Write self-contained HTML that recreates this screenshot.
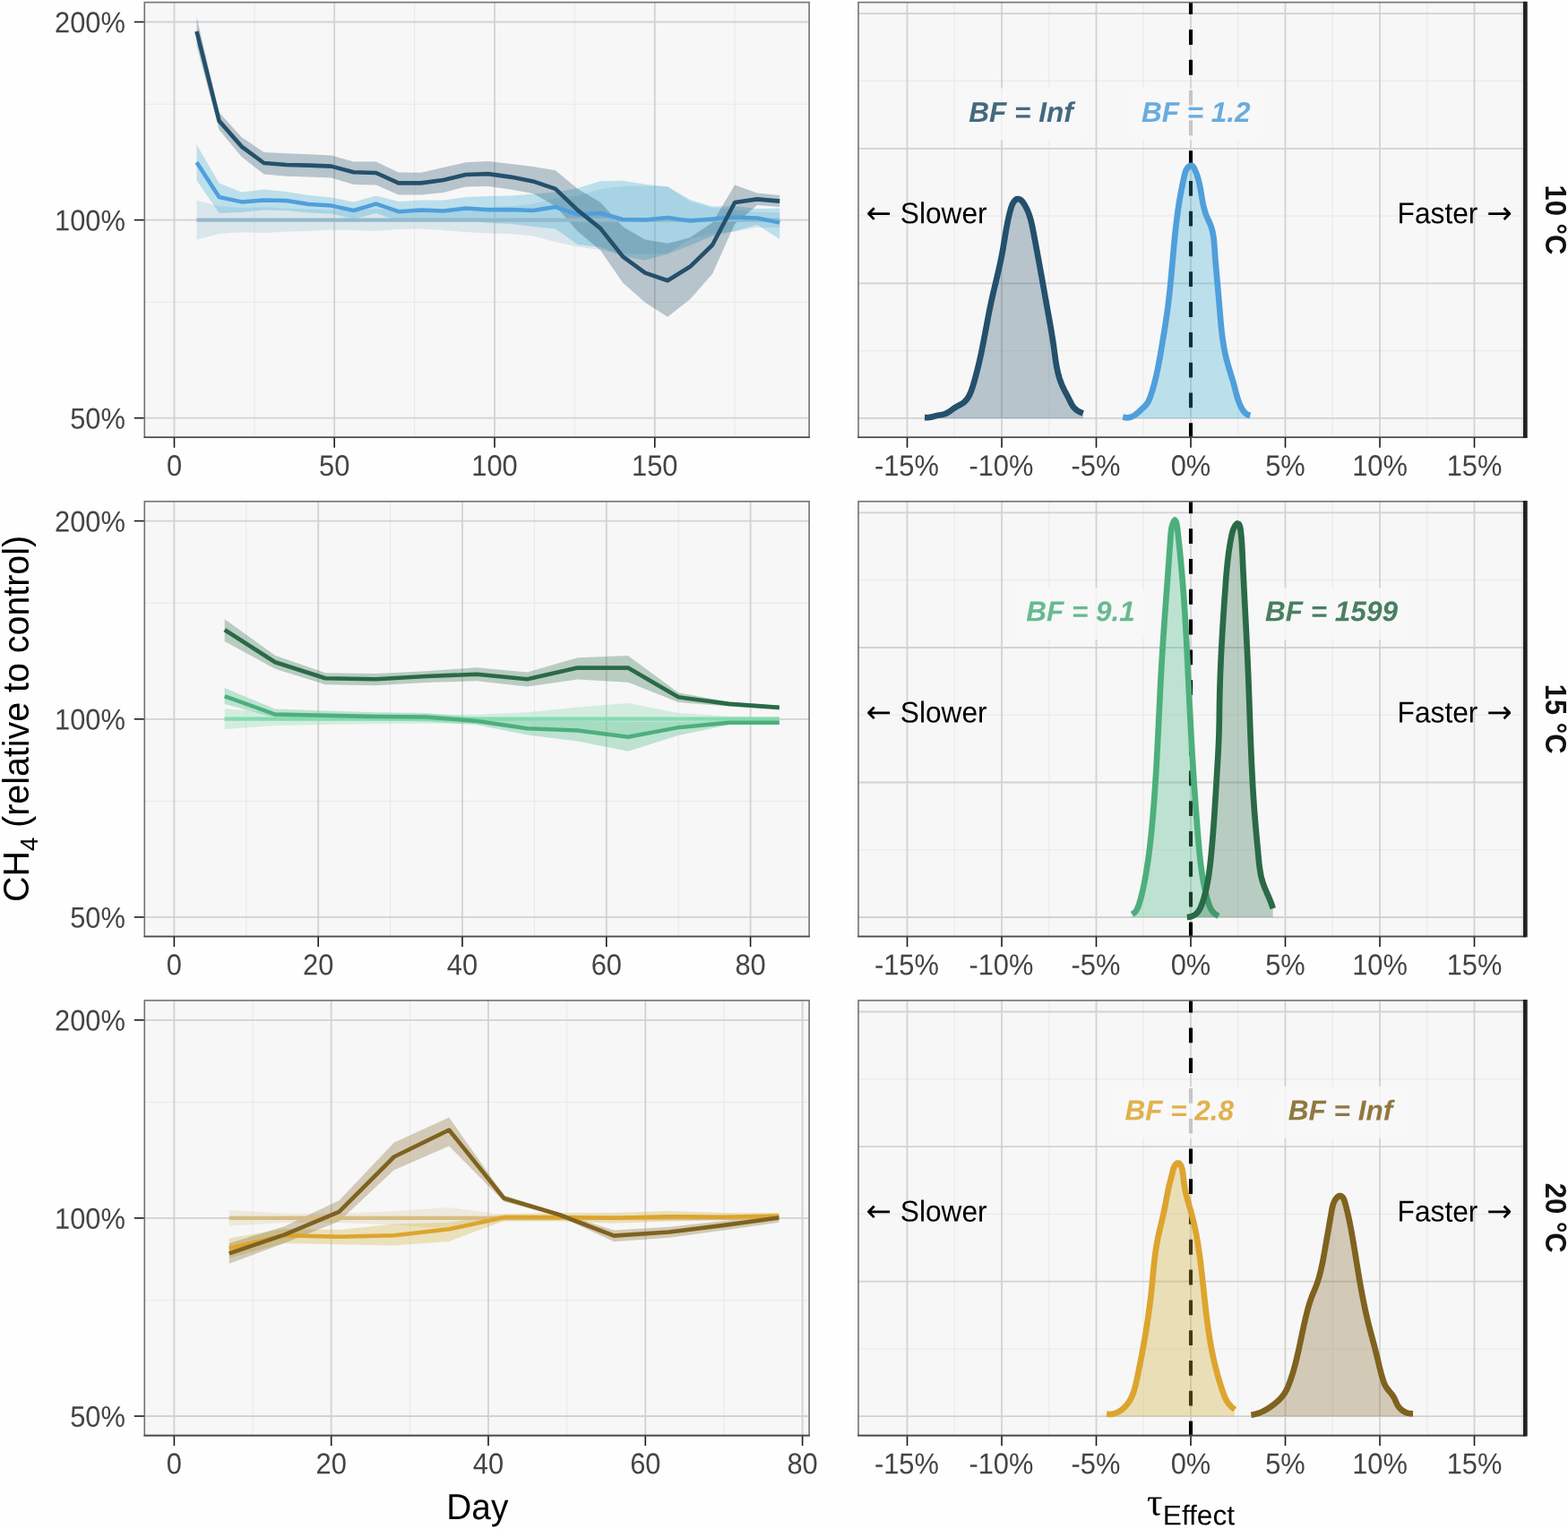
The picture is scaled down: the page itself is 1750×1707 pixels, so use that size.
<!DOCTYPE html><html lang="en"><head><meta charset="utf-8"><title>CH4 relative to control</title>
<style>html,body{margin:0;padding:0;background:#fff}svg{display:block}text{font-family:"Liberation Sans",Arial,Helvetica,sans-serif}</style></head><body>
<svg width="1750" height="1707" viewBox="0 0 1750 1707">
<rect width="1750" height="1707" fill="#FEFEFE"/>
<defs>
<clipPath id="cl0"><rect x="161.3" y="2.6" width="741.8" height="485.7"/></clipPath>
<clipPath id="cr0"><rect x="958.0" y="2.6" width="744.3" height="485.7"/></clipPath>
<clipPath id="cl1"><rect x="161.3" y="559.8" width="741.8" height="485.7"/></clipPath>
<clipPath id="cr1"><rect x="958.0" y="559.8" width="744.3" height="485.7"/></clipPath>
<clipPath id="cl2"><rect x="161.3" y="1116.9" width="741.8" height="485.7"/></clipPath>
<clipPath id="cr2"><rect x="958.0" y="1116.9" width="744.3" height="485.7"/></clipPath>
</defs>
<g>
<rect x="161.3" y="2.6" width="741.8" height="485.7" fill="#F7F7F7"/>
<g clip-path="url(#cl0)">
<line x1="283.9" x2="283.9" y1="2.6" y2="488.3" stroke="#E8E8E8" stroke-width="1.0"/>
<line x1="462.6" x2="462.6" y1="2.6" y2="488.3" stroke="#E8E8E8" stroke-width="1.0"/>
<line x1="641.4" x2="641.4" y1="2.6" y2="488.3" stroke="#E8E8E8" stroke-width="1.0"/>
<line x1="820.1" x2="820.1" y1="2.6" y2="488.3" stroke="#E8E8E8" stroke-width="1.0"/>
<line x1="161.3" x2="903.1" y1="116.3" y2="116.3" stroke="#E8E8E8" stroke-width="1.0"/>
<line x1="161.3" x2="903.1" y1="337.4" y2="337.4" stroke="#E8E8E8" stroke-width="1.0"/>
<line x1="194.5" x2="194.5" y1="2.6" y2="488.3" stroke="#D2D2D2" stroke-width="1.8"/>
<line x1="373.2" x2="373.2" y1="2.6" y2="488.3" stroke="#D2D2D2" stroke-width="1.8"/>
<line x1="552" x2="552" y1="2.6" y2="488.3" stroke="#D2D2D2" stroke-width="1.8"/>
<line x1="730.8" x2="730.8" y1="2.6" y2="488.3" stroke="#D2D2D2" stroke-width="1.8"/>
<line x1="161.3" x2="903.1" y1="24.5" y2="24.5" stroke="#D2D2D2" stroke-width="1.8"/>
<line x1="161.3" x2="903.1" y1="245.6" y2="245.6" stroke="#D2D2D2" stroke-width="1.8"/>
<line x1="161.3" x2="903.1" y1="466.7" y2="466.7" stroke="#D2D2D2" stroke-width="1.8"/>
<polygon points="219.5,223.8 244.6,230.2 269.6,232 294.6,231.2 319.6,232.8 344.6,233.2 369.7,234.8 394.7,234.2 419.7,233.2 444.8,235.2 469.8,235.6 494.8,234.2 519.8,232.2 544.9,230.8 569.9,230.2 594.9,227.6 619.9,221.2 645,218.3 670,210.9 695,207.8 720,207.4 745.1,208.4 770.1,225 795.1,232 820.1,234 845.1,237 870.2,237 870.2,254 845.1,254 820.1,258.5 795.1,260.5 770.1,267.2 745.1,282.9 720,283.8 695,283.4 670,279 645,275.4 619.9,270 594.9,263.6 569.9,261 544.9,260.4 519.8,259 494.8,257 469.8,255.6 444.8,256 419.7,258 394.7,257 369.7,256.4 344.6,258 319.6,258.4 294.6,260 269.6,259.2 244.6,261 219.5,267.4" fill="#8FBBD0" fill-opacity="0.28"/>
<polygon points="219.5,161.4 244.6,204.6 269.6,214.4 294.6,211.4 319.6,214 344.6,218 369.7,220.4 394.7,225.6 419.7,218.4 444.8,225 469.8,223.6 494.8,223.6 519.8,220 544.9,219 569.9,218.6 594.9,216.4 619.9,214.4 645,210 670,202.3 695,201.8 720,205.8 745.1,208.3 770.1,223 795.1,230.4 820.1,230 845.1,233 870.2,232.4 870.2,267 845.1,251 820.1,258 795.1,263.5 770.1,274 745.1,283.6 720,290.6 695,286.3 670,276 645,273 619.9,255.4 594.9,253 569.9,250 544.9,249 519.8,246 494.8,246.6 469.8,245.6 444.8,247 419.7,238 394.7,244.4 369.7,238.6 344.6,237.6 319.6,235 294.6,234.4 269.6,237 244.6,238 219.5,201.6" fill="#2CA6D2" fill-opacity="0.29"/>
<polygon points="219.5,19 244.6,125.6 269.6,153 294.6,170 319.6,171.2 344.6,172.2 369.7,173.4 394.7,180.4 419.7,180.6 444.8,192.6 469.8,192.8 494.8,187 519.8,181.2 544.9,179.9 569.9,183 594.9,186 619.9,190.2 645,210.9 670,225.7 695,253.1 720,267.4 745.1,271.8 770.1,265.3 795.1,248.4 820.1,206.4 845.1,215.6 870.2,218 870.2,231 845.1,229 820.1,250 795.1,305.8 770.1,334.2 745.1,353.8 720,337.8 695,315.6 670,279.2 645,258.6 619.9,230 594.9,216 569.9,211.6 544.9,208 519.8,208.4 494.8,215 469.8,217.6 444.8,217.4 419.7,206.6 394.7,206 369.7,198.4 344.6,197.6 319.6,196.8 294.6,194.4 269.6,175 244.6,145 219.5,51" fill="#24506B" fill-opacity="0.3"/>
<polyline points="219.5,245.6 244.6,245.6 269.6,245.6 294.6,245.6 319.6,245.6 344.6,245.6 369.7,245.6 394.7,245.6 419.7,245.6 444.8,245.6 469.8,245.6 494.8,245.6 519.8,245.6 544.9,245.6 569.9,245.6 594.9,245.6 619.9,245.6 645,245.6 670,245.6 695,245.6 720,245.6 745.1,245.6 770.1,245.6 795.1,245.6 820.1,245.6 845.1,245.6 870.2,245.6" fill="none" stroke="#93B9CB" stroke-width="4.2" stroke-linejoin="round"/>
<polyline points="219.5,181.2 244.6,220 269.6,225.4 294.6,223.4 319.6,224 344.6,228 369.7,229.6 394.7,235 419.7,227.6 444.8,236.2 469.8,234.4 494.8,235.4 519.8,232.6 544.9,234.2 569.9,234 594.9,235 619.9,231 645,239.6 670,238 695,245 720,245.4 745.1,243 770.1,246.6 795.1,244.4 820.1,242.4 845.1,243.4 870.2,248.6" fill="none" stroke="#4F9FDB" stroke-width="4.5" stroke-linejoin="round"/>
<polyline points="219.5,35 244.6,135 269.6,163.6 294.6,182 319.6,184 344.6,184.6 369.7,185.6 394.7,192.2 419.7,193 444.8,204.4 469.8,204.4 494.8,201 519.8,195 544.9,194.1 569.9,197.6 594.9,202.4 619.9,210.9 645,234.9 670,254.9 695,286.3 720,304.6 745.1,313.2 770.1,297.8 795.1,273.5 820.1,226 845.1,222.4 870.2,224.6" fill="none" stroke="#24506B" stroke-width="4.6" stroke-linejoin="round"/>
</g>
<rect x="161.3" y="2.6" width="741.8" height="485.7" fill="none" stroke="#727272" stroke-width="1.6"/>
<line x1="160.5" x2="903.9" y1="488.3" y2="488.3" stroke="#4A4A4A" stroke-width="1.6"/>
<line x1="149.8" x2="160.7" y1="24.5" y2="24.5" stroke="#1A1A1A" stroke-width="1.6"/>
<text transform="translate(139.90 36.30) rotate(0.03) scale(0.94 1)" text-anchor="end" font-size="32.8" fill="#444444">200%</text>
<line x1="149.8" x2="160.7" y1="245.6" y2="245.6" stroke="#1A1A1A" stroke-width="1.6"/>
<text transform="translate(139.90 257.40) rotate(0.03) scale(0.94 1)" text-anchor="end" font-size="32.8" fill="#444444">100%</text>
<line x1="149.8" x2="160.7" y1="466.7" y2="466.7" stroke="#1A1A1A" stroke-width="1.6"/>
<text transform="translate(139.90 478.50) rotate(0.03) scale(0.94 1)" text-anchor="end" font-size="32.8" fill="#444444">50%</text>
<line x1="194.5" x2="194.5" y1="488.9" y2="499.8" stroke="#1A1A1A" stroke-width="1.6"/>
<text transform="translate(194.50 531.00) rotate(0.03) scale(0.94 1)" text-anchor="middle" font-size="32.8" fill="#444444">0</text>
<line x1="373.2" x2="373.2" y1="488.9" y2="499.8" stroke="#1A1A1A" stroke-width="1.6"/>
<text transform="translate(373.25 531.00) rotate(0.03) scale(0.94 1)" text-anchor="middle" font-size="32.8" fill="#444444">50</text>
<line x1="552" x2="552" y1="488.9" y2="499.8" stroke="#1A1A1A" stroke-width="1.6"/>
<text transform="translate(552.00 531.00) rotate(0.03) scale(0.94 1)" text-anchor="middle" font-size="32.8" fill="#444444">100</text>
<line x1="730.8" x2="730.8" y1="488.9" y2="499.8" stroke="#1A1A1A" stroke-width="1.6"/>
<text transform="translate(730.75 531.00) rotate(0.03) scale(0.94 1)" text-anchor="middle" font-size="32.8" fill="#444444">150</text>
</g>
<g>
<rect x="958.0" y="2.6" width="744.3" height="485.7" fill="#F7F7F7"/>
<g clip-path="url(#cr0)">
<line x1="1065.2" x2="1065.2" y1="2.6" y2="488.3" stroke="#E8E8E8" stroke-width="1.0"/>
<line x1="1170.8" x2="1170.8" y1="2.6" y2="488.3" stroke="#E8E8E8" stroke-width="1.0"/>
<line x1="1276.2" x2="1276.2" y1="2.6" y2="488.3" stroke="#E8E8E8" stroke-width="1.0"/>
<line x1="1381.8" x2="1381.8" y1="2.6" y2="488.3" stroke="#E8E8E8" stroke-width="1.0"/>
<line x1="1487.2" x2="1487.2" y1="2.6" y2="488.3" stroke="#E8E8E8" stroke-width="1.0"/>
<line x1="1592.8" x2="1592.8" y1="2.6" y2="488.3" stroke="#E8E8E8" stroke-width="1.0"/>
<line x1="1698.2" x2="1698.2" y1="2.6" y2="488.3" stroke="#E8E8E8" stroke-width="1.0"/>
<line x1="958" x2="1702.3" y1="90.5" y2="90.5" stroke="#E8E8E8" stroke-width="1.0"/>
<line x1="958" x2="1702.3" y1="241" y2="241" stroke="#E8E8E8" stroke-width="1.0"/>
<line x1="958" x2="1702.3" y1="391.6" y2="391.6" stroke="#E8E8E8" stroke-width="1.0"/>
<line x1="1012.5" x2="1012.5" y1="2.6" y2="488.3" stroke="#D2D2D2" stroke-width="1.8"/>
<line x1="1118" x2="1118" y1="2.6" y2="488.3" stroke="#D2D2D2" stroke-width="1.8"/>
<line x1="1223.5" x2="1223.5" y1="2.6" y2="488.3" stroke="#D2D2D2" stroke-width="1.8"/>
<line x1="1329" x2="1329" y1="2.6" y2="488.3" stroke="#D2D2D2" stroke-width="1.8"/>
<line x1="1434.5" x2="1434.5" y1="2.6" y2="488.3" stroke="#D2D2D2" stroke-width="1.8"/>
<line x1="1540" x2="1540" y1="2.6" y2="488.3" stroke="#D2D2D2" stroke-width="1.8"/>
<line x1="1645.5" x2="1645.5" y1="2.6" y2="488.3" stroke="#D2D2D2" stroke-width="1.8"/>
<line x1="958" x2="1702.3" y1="15.2" y2="15.2" stroke="#D2D2D2" stroke-width="1.8"/>
<line x1="958" x2="1702.3" y1="165.8" y2="165.8" stroke="#D2D2D2" stroke-width="1.8"/>
<line x1="958" x2="1702.3" y1="316.3" y2="316.3" stroke="#D2D2D2" stroke-width="1.8"/>
<line x1="958" x2="1702.3" y1="466.9" y2="466.9" stroke="#D2D2D2" stroke-width="1.8"/>
<line x1="1329" x2="1329" y1="-0.7" y2="493.3" stroke="#000" stroke-width="4.1" stroke-dasharray="16.8 16.98"/>
<polygon points="1032,466.9 1032,466.1 1034.8,466.2 1037.5,465.9 1040.1,465.4 1042.8,464.7 1045.4,464.1 1048.1,463.5 1050.8,463 1053.5,462.5 1056,461.5 1058.4,460.2 1060.7,458.7 1062.8,457.1 1065,455.6 1067.4,454.1 1069.9,452.8 1072.4,451.5 1074.7,450 1076.8,448.3 1078.6,446.4 1080.1,444.3 1081.5,442 1082.7,439.5 1083.8,437 1084.7,434.4 1085.6,431.8 1086.4,429.1 1087.1,426.4 1087.9,423.8 1088.6,421.1 1089.4,418.5 1090.1,415.8 1090.7,413.2 1091.4,410.6 1092,407.9 1092.7,405.3 1093.3,402.6 1093.9,400 1094.4,397.3 1095,394.7 1095.6,392 1096.1,389.4 1096.6,386.7 1097.2,384 1097.7,381.3 1098.2,378.7 1098.7,376 1099.2,373.3 1099.7,370.6 1100.2,367.9 1100.7,365.2 1101.2,362.6 1101.7,359.9 1102.2,357.2 1102.7,354.5 1103.3,351.8 1103.8,349.1 1104.3,346.5 1104.9,343.8 1105.4,341.1 1106,338.4 1106.6,335.7 1107.2,333.1 1107.8,330.4 1108.4,327.8 1109,325.1 1109.6,322.4 1110.2,319.8 1110.9,317.1 1111.5,314.5 1112.1,311.8 1112.8,309.2 1113.4,306.5 1114,303.9 1114.6,301.2 1115.2,298.5 1115.8,295.9 1116.4,293.2 1117,290.6 1117.5,287.9 1118,285.2 1118.5,282.5 1119,279.9 1119.5,277.2 1119.9,274.5 1120.4,271.8 1120.8,269.1 1121.3,266.4 1121.7,263.7 1122.2,261 1122.6,258.3 1123.1,255.6 1123.6,253 1124.1,250.3 1124.6,247.6 1125.2,244.9 1125.8,242.3 1126.4,239.6 1127.1,236.9 1127.8,234.3 1128.5,231.6 1129.5,229 1130.7,226.5 1132.3,224.1 1134.4,222.4 1136.7,222 1138.9,222.9 1140.9,224.7 1142.5,227.1 1144,229.5 1145.4,232 1146.6,234.5 1147.6,237.1 1148.6,239.6 1149.4,242.2 1150.2,244.8 1150.9,247.5 1151.5,250.1 1152.1,252.7 1152.6,255.4 1153.2,258.1 1153.7,260.7 1154.2,263.4 1154.7,266.1 1155.2,268.7 1155.7,271.4 1156.2,274.1 1156.7,276.8 1157.2,279.5 1157.7,282.1 1158.2,284.8 1158.6,287.5 1159.1,290.2 1159.6,292.9 1160.1,295.6 1160.6,298.3 1161.1,300.9 1161.6,303.6 1162.1,306.3 1162.5,309 1163,311.7 1163.5,314.4 1164,317.1 1164.5,319.8 1164.9,322.5 1165.4,325.2 1165.9,327.8 1166.4,330.5 1166.9,333.2 1167.4,335.9 1167.8,338.6 1168.3,341.3 1168.8,344 1169.3,346.7 1169.8,349.3 1170.3,352 1170.7,354.7 1171.2,357.4 1171.7,360.1 1172.2,362.8 1172.6,365.4 1173.1,368.1 1173.6,370.8 1174,373.5 1174.4,376.2 1174.9,378.9 1175.3,381.6 1175.7,384.3 1176,387 1176.4,389.7 1176.8,392.4 1177.1,395.1 1177.5,397.8 1177.9,400.5 1178.3,403.2 1178.7,405.9 1179.2,408.6 1179.7,411.3 1180.2,414 1180.9,416.6 1181.6,419.3 1182.3,421.9 1183.2,424.5 1184.1,427 1185.1,429.6 1186.2,432.1 1187.4,434.5 1188.6,436.9 1189.9,439.4 1191.2,441.8 1192.5,444.2 1193.7,446.7 1194.9,449.1 1196.1,451.5 1197.6,453.8 1199.4,455.9 1201.5,457.7 1203.8,459.2 1206.2,460.4 1208.8,461.3 1208.8,466.9" fill="#24506B" fill-opacity="0.3"/>
<polyline points="1032.00,466.13 1034.78,466.22 1037.49,465.94 1040.15,465.41 1042.78,464.74 1045.43,464.06 1048.10,463.47 1050.81,463.01 1053.48,462.46 1056.02,461.54 1058.41,460.23 1060.67,458.70 1062.85,457.12 1065.04,455.57 1067.37,454.13 1069.87,452.82 1072.39,451.51 1074.72,450.03 1076.77,448.31 1078.57,446.38 1080.13,444.25 1081.50,441.97 1082.70,439.55 1083.75,437.03 1084.70,434.43 1085.56,431.78 1086.37,429.11 1087.15,426.44 1087.91,423.78 1088.64,421.13 1089.36,418.48 1090.05,415.84 1090.73,413.19 1091.39,410.55 1092.03,407.91 1092.65,405.27 1093.26,402.63 1093.86,399.98 1094.44,397.33 1095.01,394.68 1095.56,392.02 1096.11,389.36 1096.64,386.69 1097.17,384.02 1097.69,381.34 1098.20,378.66 1098.71,375.98 1099.22,373.30 1099.72,370.62 1100.22,367.93 1100.72,365.25 1101.23,362.56 1101.73,359.87 1102.24,357.19 1102.75,354.50 1103.27,351.82 1103.79,349.13 1104.33,346.45 1104.87,343.77 1105.42,341.09 1105.98,338.42 1106.56,335.75 1107.15,333.08 1107.75,330.42 1108.36,327.76 1108.98,325.10 1109.61,322.44 1110.24,319.79 1110.87,317.13 1111.50,314.48 1112.14,311.83 1112.77,309.17 1113.39,306.52 1114.01,303.86 1114.62,301.21 1115.22,298.55 1115.81,295.89 1116.39,293.23 1116.95,290.56 1117.50,287.89 1118.03,285.22 1118.53,282.54 1119.02,279.86 1119.49,277.17 1119.95,274.48 1120.39,271.79 1120.84,269.10 1121.28,266.41 1121.72,263.72 1122.17,261.02 1122.63,258.33 1123.10,255.64 1123.58,252.96 1124.09,250.27 1124.62,247.59 1125.18,244.92 1125.78,242.25 1126.40,239.59 1127.07,236.93 1127.78,234.28 1128.55,231.65 1129.47,229.05 1130.69,226.52 1132.32,224.15 1134.36,222.42 1136.65,222.02 1138.91,222.89 1140.87,224.72 1142.54,227.06 1144.04,229.52 1145.38,232.00 1146.57,234.52 1147.64,237.06 1148.60,239.63 1149.45,242.22 1150.21,244.83 1150.90,247.45 1151.52,250.09 1152.10,252.74 1152.64,255.40 1153.16,258.06 1153.67,260.73 1154.17,263.40 1154.68,266.07 1155.18,268.75 1155.68,271.42 1156.18,274.10 1156.67,276.78 1157.17,279.46 1157.66,282.14 1158.16,284.83 1158.65,287.51 1159.14,290.19 1159.63,292.88 1160.11,295.57 1160.60,298.26 1161.09,300.94 1161.57,303.63 1162.05,306.32 1162.54,309.01 1163.02,311.70 1163.50,314.39 1163.98,317.08 1164.47,319.77 1164.95,322.46 1165.43,325.15 1165.91,327.84 1166.39,330.53 1166.87,333.22 1167.36,335.91 1167.84,338.60 1168.32,341.28 1168.80,343.97 1169.29,346.66 1169.77,349.34 1170.26,352.02 1170.74,354.71 1171.22,357.39 1171.70,360.07 1172.17,362.75 1172.64,365.44 1173.10,368.12 1173.55,370.81 1173.99,373.50 1174.43,376.19 1174.85,378.88 1175.26,381.58 1175.66,384.28 1176.04,386.98 1176.41,389.68 1176.77,392.39 1177.13,395.10 1177.49,397.81 1177.87,400.52 1178.27,403.23 1178.70,405.93 1179.17,408.62 1179.68,411.31 1180.25,413.98 1180.87,416.64 1181.56,419.28 1182.32,421.90 1183.15,424.49 1184.08,427.05 1185.09,429.57 1186.20,432.05 1187.39,434.51 1188.65,436.93 1189.93,439.35 1191.22,441.77 1192.49,444.20 1193.71,446.66 1194.88,449.13 1196.13,451.54 1197.60,453.82 1199.38,455.89 1201.46,457.70 1203.76,459.23 1206.23,460.44 1208.80,461.32" fill="none" stroke="#24506B" stroke-width="6.7" stroke-linejoin="round"/>
<polygon points="1253.2,466.9 1253.2,465.6 1256.6,466.3 1259.7,466.2 1262.5,465.5 1265.1,464.3 1267.5,462.7 1269.8,460.8 1272.1,458.8 1274.3,456.7 1276.6,454.6 1278.7,452.4 1280.5,450.1 1282,447.5 1283.2,444.8 1284.2,441.9 1285.1,439.1 1286,436.2 1286.9,433.3 1287.7,430.4 1288.5,427.5 1289.2,424.6 1290,421.6 1290.6,418.7 1291.3,415.8 1291.9,412.8 1292.5,409.9 1293.1,406.9 1293.6,404 1294.2,401 1294.7,398.1 1295.2,395.1 1295.7,392.1 1296.2,389.2 1296.7,386.2 1297.2,383.2 1297.7,380.3 1298.2,377.3 1298.7,374.4 1299.2,371.4 1299.7,368.4 1300.1,365.5 1300.6,362.5 1301.1,359.5 1301.5,356.6 1301.9,353.6 1302.4,350.6 1302.8,347.6 1303.2,344.7 1303.6,341.7 1303.9,338.7 1304.3,335.7 1304.6,332.7 1305,329.7 1305.3,326.8 1305.6,323.8 1305.9,320.8 1306.2,317.8 1306.5,314.8 1306.8,311.8 1307.1,308.8 1307.4,305.8 1307.7,302.8 1307.9,299.8 1308.2,296.8 1308.5,293.8 1308.7,290.8 1309,287.8 1309.3,284.8 1309.5,281.8 1309.8,278.8 1310.1,275.8 1310.4,272.8 1310.6,269.8 1310.9,266.8 1311.2,263.8 1311.5,260.8 1311.9,257.9 1312.2,254.9 1312.5,251.9 1312.9,248.9 1313.2,245.9 1313.6,243 1314,240 1314.4,237 1314.8,234 1315.3,231.1 1315.7,228.1 1316.2,225.2 1316.7,222.2 1317.2,219.2 1317.7,216.3 1318.3,213.4 1318.8,210.4 1319.4,207.5 1320.1,204.5 1320.7,201.6 1321.3,198.6 1322,195.6 1322.8,192.6 1323.8,189.7 1325.5,187.1 1328,185 1330.4,184.8 1332.1,186.8 1333.6,189.5 1334.8,192.4 1335.9,195.2 1336.8,198.1 1337.7,201 1338.4,204 1339,206.9 1339.6,209.9 1340.1,212.8 1340.6,215.8 1341.1,218.7 1341.6,221.7 1342.1,224.7 1342.7,227.6 1343.4,230.5 1344.1,233.5 1344.9,236.3 1345.9,239.2 1347,242 1348.2,244.8 1349.4,247.5 1350.7,250.2 1351.7,253 1352.6,255.9 1353.3,258.8 1353.9,261.7 1354.4,264.6 1354.7,267.6 1355,270.6 1355.3,273.7 1355.5,276.7 1355.7,279.7 1355.9,282.7 1356.1,285.8 1356.3,288.8 1356.6,291.8 1356.8,294.8 1357.1,297.7 1357.4,300.7 1357.6,303.7 1357.9,306.7 1358.2,309.7 1358.4,312.7 1358.7,315.6 1359,318.6 1359.2,321.6 1359.5,324.6 1359.7,327.6 1360,330.6 1360.2,333.6 1360.5,336.6 1360.7,339.6 1361,342.6 1361.3,345.6 1361.5,348.6 1361.8,351.6 1362,354.6 1362.3,357.6 1362.5,360.6 1362.8,363.6 1363.1,366.6 1363.5,369.6 1363.8,372.6 1364.2,375.6 1364.6,378.5 1365,381.5 1365.4,384.5 1365.9,387.4 1366.5,390.4 1367.1,393.3 1367.7,396.3 1368.4,399.2 1369.1,402.1 1369.9,405 1370.7,407.9 1371.6,410.8 1372.4,413.6 1373.3,416.5 1374.2,419.4 1375.1,422.3 1375.9,425.2 1376.8,428.1 1377.5,431 1378.3,433.9 1379,436.8 1379.8,439.7 1380.6,442.6 1381.5,445.5 1382.5,448.3 1383.6,451.1 1384.8,453.8 1386.3,456.5 1387.9,459.1 1389.9,461.3 1392.3,463 1395.3,463.8 1395.3,466.9" fill="#2CA6D2" fill-opacity="0.29"/>
<polyline points="1253.23,465.63 1256.62,466.30 1259.69,466.23 1262.50,465.53 1265.10,464.32 1267.53,462.72 1269.85,460.83 1272.10,458.77 1274.34,456.66 1276.59,454.57 1278.70,452.42 1280.52,450.08 1281.98,447.51 1283.16,444.76 1284.19,441.92 1285.14,439.05 1286.05,436.18 1286.91,433.29 1287.73,430.39 1288.51,427.49 1289.25,424.57 1289.95,421.65 1290.63,418.72 1291.27,415.78 1291.89,412.84 1292.49,409.89 1293.06,406.94 1293.62,403.99 1294.16,401.03 1294.69,398.07 1295.20,395.10 1295.71,392.14 1296.22,389.17 1296.72,386.21 1297.22,383.25 1297.72,380.28 1298.21,377.32 1298.70,374.35 1299.18,371.39 1299.66,368.42 1300.13,365.46 1300.60,362.49 1301.05,359.52 1301.50,356.55 1301.93,353.58 1302.36,350.61 1302.77,347.64 1303.17,344.66 1303.56,341.68 1303.94,338.70 1304.30,335.72 1304.65,332.73 1304.99,329.74 1305.32,326.75 1305.63,323.76 1305.94,320.77 1306.24,317.78 1306.53,314.78 1306.82,311.79 1307.10,308.79 1307.38,305.79 1307.65,302.79 1307.92,299.80 1308.19,296.80 1308.46,293.80 1308.72,290.80 1308.99,287.80 1309.26,284.80 1309.52,281.81 1309.80,278.81 1310.07,275.81 1310.35,272.82 1310.64,269.82 1310.93,266.83 1311.23,263.84 1311.54,260.85 1311.86,257.86 1312.19,254.88 1312.52,251.89 1312.87,248.91 1313.23,245.93 1313.61,242.95 1314.00,239.98 1314.40,237.01 1314.82,234.04 1315.25,231.08 1315.71,228.11 1316.18,225.15 1316.67,222.20 1317.18,219.25 1317.71,216.30 1318.26,213.36 1318.84,210.42 1319.43,207.48 1320.05,204.53 1320.69,201.57 1321.34,198.59 1322.00,195.58 1322.75,192.58 1323.84,189.70 1325.54,187.08 1327.96,185.02 1330.36,184.76 1332.13,186.76 1333.56,189.55 1334.80,192.38 1335.88,195.25 1336.83,198.13 1337.65,201.04 1338.37,203.97 1339.01,206.91 1339.58,209.86 1340.10,212.82 1340.60,215.78 1341.09,218.74 1341.59,221.71 1342.13,224.66 1342.71,227.61 1343.36,230.54 1344.09,233.46 1344.93,236.35 1345.89,239.20 1346.98,242.01 1348.19,244.76 1349.45,247.50 1350.66,250.24 1351.71,253.03 1352.59,255.87 1353.32,258.76 1353.90,261.69 1354.37,264.65 1354.75,267.64 1355.04,270.64 1355.28,273.66 1355.49,276.69 1355.68,279.72 1355.87,282.75 1356.08,285.76 1356.31,288.77 1356.56,291.76 1356.82,294.75 1357.08,297.74 1357.36,300.72 1357.63,303.71 1357.90,306.69 1358.17,309.68 1358.43,312.66 1358.70,315.65 1358.96,318.64 1359.22,321.63 1359.48,324.62 1359.73,327.61 1359.99,330.60 1360.24,333.60 1360.50,336.59 1360.75,339.59 1361.00,342.59 1361.25,345.59 1361.50,348.59 1361.76,351.59 1362.01,354.60 1362.27,357.60 1362.55,360.60 1362.83,363.60 1363.13,366.60 1363.45,369.59 1363.79,372.58 1364.16,375.57 1364.55,378.55 1364.98,381.52 1365.44,384.49 1365.94,387.45 1366.48,390.40 1367.06,393.34 1367.69,396.27 1368.37,399.19 1369.10,402.10 1369.88,404.99 1370.71,407.88 1371.57,410.76 1372.44,413.64 1373.33,416.52 1374.22,419.39 1375.09,422.28 1375.95,425.16 1376.77,428.06 1377.55,430.97 1378.29,433.89 1379.04,436.80 1379.80,439.71 1380.62,442.60 1381.50,445.46 1382.48,448.29 1383.58,451.08 1384.84,453.82 1386.26,456.50 1387.90,459.08 1389.88,461.32 1392.31,462.98 1395.33,463.80" fill="none" stroke="#4F9FDB" stroke-width="6.7" stroke-linejoin="round"/>
<rect x="1067.7" y="98.7" width="143.3" height="58.1" rx="6" fill="#F8F8F8" fill-opacity="0.8"/>
<text transform="translate(1139.55 136.10) rotate(0.03)" text-anchor="middle" font-size="31.5" fill="#24506B" font-weight="bold" font-style="italic" fill-opacity="0.85">BF = Inf</text>
<rect x="1261.1" y="98.7" width="146.9" height="58.1" rx="6" fill="#F8F8F8" fill-opacity="0.8"/>
<text transform="translate(1334.75 136.10) rotate(0.03)" text-anchor="middle" font-size="31.5" fill="#4F9FDB" font-weight="bold" font-style="italic" fill-opacity="0.85">BF = 1.2</text>
<text transform="translate(966.40 249.30) rotate(0.03)" font-size="34" fill="#000" style="font-family:'DejaVu Sans',sans-serif">←</text>
<text transform="translate(1004.80 249.30) rotate(0.03) scale(0.96 1)" font-size="33.0" fill="#000">Slower</text>
<text transform="translate(1559.60 249.30) rotate(0.03) scale(0.96 1)" font-size="33.0" fill="#000">Faster</text>
<text transform="translate(1659.20 249.30) rotate(0.03)" font-size="34" fill="#000" style="font-family:'DejaVu Sans',sans-serif">→</text>
</g>
</g>
<rect x="958.0" y="2.6" width="744.3" height="485.7" fill="none" stroke="#727272" stroke-width="1.6"/>
<line x1="957.2" x2="1702.3" y1="488.3" y2="488.3" stroke="#4A4A4A" stroke-width="1.6"/>
<line x1="1702.3" x2="1702.3" y1="1.8" y2="489.1" stroke="#222" stroke-width="4.8"/>
<line x1="1012.5" x2="1012.5" y1="488.9" y2="499.8" stroke="#1A1A1A" stroke-width="1.6"/>
<text transform="translate(1011.90 531.00) rotate(0.03) scale(0.94 1)" text-anchor="middle" font-size="32.8" fill="#444444">-15%</text>
<line x1="1118" x2="1118" y1="488.9" y2="499.8" stroke="#1A1A1A" stroke-width="1.6"/>
<text transform="translate(1117.40 531.00) rotate(0.03) scale(0.94 1)" text-anchor="middle" font-size="32.8" fill="#444444">-10%</text>
<line x1="1223.5" x2="1223.5" y1="488.9" y2="499.8" stroke="#1A1A1A" stroke-width="1.6"/>
<text transform="translate(1222.90 531.00) rotate(0.03) scale(0.94 1)" text-anchor="middle" font-size="32.8" fill="#444444">-5%</text>
<line x1="1329" x2="1329" y1="488.9" y2="499.8" stroke="#1A1A1A" stroke-width="1.6"/>
<text transform="translate(1329.00 531.00) rotate(0.03) scale(0.94 1)" text-anchor="middle" font-size="32.8" fill="#444444">0%</text>
<line x1="1434.5" x2="1434.5" y1="488.9" y2="499.8" stroke="#1A1A1A" stroke-width="1.6"/>
<text transform="translate(1434.50 531.00) rotate(0.03) scale(0.94 1)" text-anchor="middle" font-size="32.8" fill="#444444">5%</text>
<line x1="1540" x2="1540" y1="488.9" y2="499.8" stroke="#1A1A1A" stroke-width="1.6"/>
<text transform="translate(1540.00 531.00) rotate(0.03) scale(0.94 1)" text-anchor="middle" font-size="32.8" fill="#444444">10%</text>
<line x1="1645.5" x2="1645.5" y1="488.9" y2="499.8" stroke="#1A1A1A" stroke-width="1.6"/>
<text transform="translate(1645.50 531.00) rotate(0.03) scale(0.94 1)" text-anchor="middle" font-size="32.8" fill="#444444">15%</text>
<text transform="translate(1724.50 245.45) rotate(90) scale(0.925 1)" text-anchor="middle" font-size="33.5" fill="#111" font-weight="bold">10 °C</text>
<g>
<rect x="161.3" y="559.8" width="741.8" height="485.7" fill="#F7F7F7"/>
<g clip-path="url(#cl1)">
<line x1="274.8" x2="274.8" y1="559.8" y2="1045.5" stroke="#E8E8E8" stroke-width="1.0"/>
<line x1="435.6" x2="435.6" y1="559.8" y2="1045.5" stroke="#E8E8E8" stroke-width="1.0"/>
<line x1="596.4" x2="596.4" y1="559.8" y2="1045.5" stroke="#E8E8E8" stroke-width="1.0"/>
<line x1="757.2" x2="757.2" y1="559.8" y2="1045.5" stroke="#E8E8E8" stroke-width="1.0"/>
<line x1="161.3" x2="903.1" y1="673.4" y2="673.4" stroke="#E8E8E8" stroke-width="1.0"/>
<line x1="161.3" x2="903.1" y1="894.5" y2="894.5" stroke="#E8E8E8" stroke-width="1.0"/>
<line x1="194.4" x2="194.4" y1="559.8" y2="1045.5" stroke="#D2D2D2" stroke-width="1.8"/>
<line x1="355.2" x2="355.2" y1="559.8" y2="1045.5" stroke="#D2D2D2" stroke-width="1.8"/>
<line x1="516" x2="516" y1="559.8" y2="1045.5" stroke="#D2D2D2" stroke-width="1.8"/>
<line x1="676.8" x2="676.8" y1="559.8" y2="1045.5" stroke="#D2D2D2" stroke-width="1.8"/>
<line x1="837.6" x2="837.6" y1="559.8" y2="1045.5" stroke="#D2D2D2" stroke-width="1.8"/>
<line x1="161.3" x2="903.1" y1="581.6" y2="581.6" stroke="#D2D2D2" stroke-width="1.8"/>
<line x1="161.3" x2="903.1" y1="802.8" y2="802.8" stroke="#D2D2D2" stroke-width="1.8"/>
<line x1="161.3" x2="903.1" y1="1023.9" y2="1023.9" stroke="#D2D2D2" stroke-width="1.8"/>
<polygon points="250.7,791.2 307,795.5 363.2,796.5 419.5,797.3 475.8,797.6 532.1,797.8 588.4,795.3 644.6,789.6 700.9,784.9 757.2,796 813.5,799.7 869.8,800.4 869.8,805 813.5,805.7 757.2,809.4 700.9,820.5 644.6,815.8 588.4,810.1 532.1,807.6 475.8,807.8 419.5,808.1 363.2,808.9 307,809.9 250.7,814.2" fill="#7FD8AD" fill-opacity="0.3"/>
<polygon points="250.7,768 307,791.5 363.2,793.4 419.5,795.3 475.8,796 532.1,801 588.4,804.5 644.6,805 700.9,805.5 757.2,805.5 813.5,804.8 869.8,804.8 869.8,808.5 813.5,809.2 757.2,821.1 700.9,838.8 644.6,827.4 588.4,820.5 532.1,809.2 475.8,805.4 419.5,804.2 363.2,803.5 307,801.6 250.7,785.9" fill="#48B985" fill-opacity="0.33"/>
<polygon points="250.7,691.2 307,731.7 363.2,751.2 419.5,752.1 475.8,749.3 532.1,745.3 588.4,750.4 644.6,734.2 700.9,732 757.2,773.3 813.5,783.4 869.8,787.8 869.8,792.2 813.5,788.4 757.2,784 700.9,761.7 644.6,758.5 588.4,766.6 532.1,760.3 475.8,761.9 419.5,765.3 363.2,764.2 307,746.8 250.7,716" fill="#2A6A46" fill-opacity="0.3"/>
<polyline points="250.7,802.7 307,802.7 363.2,802.7 419.5,802.7 475.8,802.7 532.1,802.7 588.4,802.7 644.6,802.7 700.9,802.7 757.2,802.7 813.5,802.7 869.8,802.7" fill="none" stroke="#85DBB0" stroke-width="4.2" stroke-linejoin="round"/>
<polyline points="250.7,777.3 307,797.5 363.2,798.7 419.5,800 475.8,800.6 532.1,805 588.4,813.2 644.6,815.5 700.9,822.8 757.2,812.1 813.5,806.7 869.8,806.7" fill="none" stroke="#4DAF7C" stroke-width="4.5" stroke-linejoin="round"/>
<polyline points="250.7,703.2 307,739.3 363.2,757.3 419.5,758.2 475.8,755 532.1,752.7 588.4,758.2 644.6,745.6 700.9,745.6 757.2,778.3 813.5,785.9 869.8,789.9" fill="none" stroke="#2A6A46" stroke-width="4.6" stroke-linejoin="round"/>
</g>
<rect x="161.3" y="559.8" width="741.8" height="485.7" fill="none" stroke="#727272" stroke-width="1.6"/>
<line x1="160.5" x2="903.9" y1="1045.5" y2="1045.5" stroke="#4A4A4A" stroke-width="1.6"/>
<line x1="149.8" x2="160.7" y1="581.6" y2="581.6" stroke="#1A1A1A" stroke-width="1.6"/>
<text transform="translate(139.90 593.45) rotate(0.03) scale(0.94 1)" text-anchor="end" font-size="32.8" fill="#444444">200%</text>
<line x1="149.8" x2="160.7" y1="802.8" y2="802.8" stroke="#1A1A1A" stroke-width="1.6"/>
<text transform="translate(139.90 814.55) rotate(0.03) scale(0.94 1)" text-anchor="end" font-size="32.8" fill="#444444">100%</text>
<line x1="149.8" x2="160.7" y1="1023.9" y2="1023.9" stroke="#1A1A1A" stroke-width="1.6"/>
<text transform="translate(139.90 1035.65) rotate(0.03) scale(0.94 1)" text-anchor="end" font-size="32.8" fill="#444444">50%</text>
<line x1="194.4" x2="194.4" y1="1046" y2="1057" stroke="#1A1A1A" stroke-width="1.6"/>
<text transform="translate(194.40 1088.15) rotate(0.03) scale(0.94 1)" text-anchor="middle" font-size="32.8" fill="#444444">0</text>
<line x1="355.2" x2="355.2" y1="1046" y2="1057" stroke="#1A1A1A" stroke-width="1.6"/>
<text transform="translate(355.20 1088.15) rotate(0.03) scale(0.94 1)" text-anchor="middle" font-size="32.8" fill="#444444">20</text>
<line x1="516" x2="516" y1="1046" y2="1057" stroke="#1A1A1A" stroke-width="1.6"/>
<text transform="translate(516.00 1088.15) rotate(0.03) scale(0.94 1)" text-anchor="middle" font-size="32.8" fill="#444444">40</text>
<line x1="676.8" x2="676.8" y1="1046" y2="1057" stroke="#1A1A1A" stroke-width="1.6"/>
<text transform="translate(676.80 1088.15) rotate(0.03) scale(0.94 1)" text-anchor="middle" font-size="32.8" fill="#444444">60</text>
<line x1="837.6" x2="837.6" y1="1046" y2="1057" stroke="#1A1A1A" stroke-width="1.6"/>
<text transform="translate(837.60 1088.15) rotate(0.03) scale(0.94 1)" text-anchor="middle" font-size="32.8" fill="#444444">80</text>
</g>
<g>
<rect x="958.0" y="559.8" width="744.3" height="485.7" fill="#F7F7F7"/>
<g clip-path="url(#cr1)">
<line x1="1065.2" x2="1065.2" y1="559.8" y2="1045.5" stroke="#E8E8E8" stroke-width="1.0"/>
<line x1="1170.8" x2="1170.8" y1="559.8" y2="1045.5" stroke="#E8E8E8" stroke-width="1.0"/>
<line x1="1276.2" x2="1276.2" y1="559.8" y2="1045.5" stroke="#E8E8E8" stroke-width="1.0"/>
<line x1="1381.8" x2="1381.8" y1="559.8" y2="1045.5" stroke="#E8E8E8" stroke-width="1.0"/>
<line x1="1487.2" x2="1487.2" y1="559.8" y2="1045.5" stroke="#E8E8E8" stroke-width="1.0"/>
<line x1="1592.8" x2="1592.8" y1="559.8" y2="1045.5" stroke="#E8E8E8" stroke-width="1.0"/>
<line x1="1698.2" x2="1698.2" y1="559.8" y2="1045.5" stroke="#E8E8E8" stroke-width="1.0"/>
<line x1="958" x2="1702.3" y1="647.6" y2="647.6" stroke="#E8E8E8" stroke-width="1.0"/>
<line x1="958" x2="1702.3" y1="798.1" y2="798.1" stroke="#E8E8E8" stroke-width="1.0"/>
<line x1="958" x2="1702.3" y1="948.8" y2="948.8" stroke="#E8E8E8" stroke-width="1.0"/>
<line x1="1012.5" x2="1012.5" y1="559.8" y2="1045.5" stroke="#D2D2D2" stroke-width="1.8"/>
<line x1="1118" x2="1118" y1="559.8" y2="1045.5" stroke="#D2D2D2" stroke-width="1.8"/>
<line x1="1223.5" x2="1223.5" y1="559.8" y2="1045.5" stroke="#D2D2D2" stroke-width="1.8"/>
<line x1="1329" x2="1329" y1="559.8" y2="1045.5" stroke="#D2D2D2" stroke-width="1.8"/>
<line x1="1434.5" x2="1434.5" y1="559.8" y2="1045.5" stroke="#D2D2D2" stroke-width="1.8"/>
<line x1="1540" x2="1540" y1="559.8" y2="1045.5" stroke="#D2D2D2" stroke-width="1.8"/>
<line x1="1645.5" x2="1645.5" y1="559.8" y2="1045.5" stroke="#D2D2D2" stroke-width="1.8"/>
<line x1="958" x2="1702.3" y1="572.4" y2="572.4" stroke="#D2D2D2" stroke-width="1.8"/>
<line x1="958" x2="1702.3" y1="723" y2="723" stroke="#D2D2D2" stroke-width="1.8"/>
<line x1="958" x2="1702.3" y1="873.5" y2="873.5" stroke="#D2D2D2" stroke-width="1.8"/>
<line x1="958" x2="1702.3" y1="1024" y2="1024" stroke="#D2D2D2" stroke-width="1.8"/>
<line x1="1329" x2="1329" y1="556.5" y2="1050.5" stroke="#000" stroke-width="4.1" stroke-dasharray="16.8 16.98"/>
<polygon points="1263.6,1024 1263.6,1020.7 1265.7,1019.3 1267.4,1017.5 1268.8,1015.5 1269.9,1013.3 1270.8,1011 1271.5,1008.6 1272.3,1006.1 1273,1003.7 1273.6,1001.3 1274.2,998.9 1274.8,996.4 1275.4,994 1275.9,991.6 1276.4,989.1 1276.9,986.7 1277.4,984.2 1277.9,981.8 1278.3,979.4 1278.7,976.9 1279.1,974.4 1279.6,972 1279.9,969.5 1280.3,967.1 1280.7,964.6 1281.1,962.1 1281.4,959.7 1281.8,957.2 1282.1,954.7 1282.4,952.3 1282.7,949.8 1283,947.3 1283.3,944.9 1283.6,942.4 1283.9,939.9 1284.2,937.4 1284.5,934.9 1284.7,932.5 1285,930 1285.2,927.5 1285.5,925 1285.7,922.5 1285.9,920.1 1286.2,917.6 1286.4,915.1 1286.6,912.6 1286.8,910.1 1287,907.6 1287.2,905.1 1287.4,902.7 1287.6,900.2 1287.8,897.7 1288,895.2 1288.2,892.7 1288.4,890.2 1288.5,887.7 1288.7,885.2 1288.9,882.8 1289.1,880.3 1289.2,877.8 1289.4,875.3 1289.6,872.8 1289.7,870.3 1289.9,867.8 1290,865.3 1290.2,862.9 1290.3,860.4 1290.5,857.9 1290.6,855.4 1290.8,852.9 1290.9,850.4 1291,847.9 1291.2,845.4 1291.3,842.9 1291.4,840.4 1291.6,838 1291.7,835.5 1291.8,833 1291.9,830.5 1292.1,828 1292.2,825.5 1292.3,823 1292.4,820.5 1292.6,818 1292.7,815.5 1292.8,813.1 1292.9,810.6 1293.1,808.1 1293.2,805.6 1293.3,803.1 1293.4,800.6 1293.5,798.1 1293.7,795.6 1293.8,793.1 1293.9,790.6 1294,788.1 1294.1,785.7 1294.3,783.2 1294.4,780.7 1294.5,778.2 1294.6,775.7 1294.7,773.2 1294.9,770.7 1295,768.2 1295.1,765.7 1295.3,763.3 1295.4,760.8 1295.5,758.3 1295.7,755.8 1295.8,753.3 1295.9,750.8 1296.1,748.3 1296.2,745.8 1296.4,743.3 1296.5,740.9 1296.6,738.4 1296.8,735.9 1297,733.4 1297.1,730.9 1297.3,728.4 1297.4,725.9 1297.6,723.5 1297.7,721 1297.9,718.5 1298.1,716 1298.2,713.5 1298.4,711 1298.6,708.5 1298.7,706 1298.9,703.6 1299.1,701.1 1299.3,698.6 1299.4,696.1 1299.6,693.6 1299.8,691.1 1300,688.6 1300.1,686.2 1300.3,683.7 1300.5,681.2 1300.7,678.7 1300.9,676.2 1301,673.7 1301.2,671.2 1301.4,668.8 1301.6,666.3 1301.8,663.8 1301.9,661.3 1302.1,658.8 1302.3,656.3 1302.5,653.8 1302.7,651.3 1302.9,648.8 1303.1,646.4 1303.2,643.9 1303.4,641.4 1303.6,638.9 1303.8,636.4 1304,633.9 1304.2,631.4 1304.3,628.9 1304.5,626.4 1304.7,623.9 1304.9,621.5 1305.1,619 1305.2,616.5 1305.4,614 1305.6,611.5 1305.8,609 1305.9,606.5 1306.1,604 1306.3,601.5 1306.5,599 1306.6,596.5 1306.9,594 1307.2,591.6 1307.6,589.2 1308.2,586.8 1309,584.4 1309.9,582.2 1311.2,580.7 1312.5,582.4 1313.2,585.2 1313.7,587.8 1314.1,590.3 1314.4,592.7 1314.6,595.1 1314.9,597.5 1315.2,600 1315.4,602.4 1315.7,604.9 1316,607.4 1316.2,609.9 1316.5,612.4 1316.7,614.9 1317,617.4 1317.2,619.9 1317.5,622.4 1317.7,624.8 1317.9,627.3 1318.2,629.8 1318.4,632.3 1318.6,634.8 1318.8,637.3 1319.1,639.8 1319.3,642.3 1319.5,644.7 1319.7,647.2 1319.9,649.7 1320.1,652.2 1320.3,654.7 1320.5,657.2 1320.7,659.6 1320.9,662.1 1321,664.6 1321.2,667.1 1321.4,669.6 1321.6,672.1 1321.7,674.5 1321.9,677 1322.1,679.5 1322.2,682 1322.4,684.5 1322.5,687 1322.7,689.5 1322.9,692 1323,694.4 1323.1,696.9 1323.3,699.4 1323.4,701.9 1323.6,704.4 1323.7,706.9 1323.8,709.4 1324,711.9 1324.1,714.4 1324.2,716.8 1324.4,719.3 1324.5,721.8 1324.6,724.3 1324.7,726.8 1324.9,729.3 1325,731.8 1325.1,734.3 1325.2,736.8 1325.4,739.3 1325.5,741.8 1325.6,744.2 1325.7,746.7 1325.8,749.2 1325.9,751.7 1326.1,754.2 1326.2,756.7 1326.3,759.2 1326.4,761.7 1326.5,764.2 1326.7,766.7 1326.8,769.2 1326.9,771.6 1327,774.1 1327.1,776.6 1327.3,779.1 1327.4,781.6 1327.5,784.1 1327.6,786.6 1327.7,789.1 1327.9,791.6 1328,794.1 1328.1,796.6 1328.2,799 1328.4,801.5 1328.5,804 1328.6,806.5 1328.8,809 1328.9,811.5 1329,814 1329.2,816.5 1329.3,819 1329.4,821.4 1329.6,823.9 1329.7,826.4 1329.9,828.9 1330,831.4 1330.1,833.9 1330.3,836.4 1330.4,838.9 1330.6,841.4 1330.7,843.8 1330.9,846.3 1331,848.8 1331.2,851.3 1331.3,853.8 1331.5,856.3 1331.6,858.8 1331.8,861.3 1332,863.7 1332.1,866.2 1332.3,868.7 1332.4,871.2 1332.6,873.7 1332.8,876.2 1332.9,878.7 1333.1,881.2 1333.3,883.6 1333.5,886.1 1333.6,888.6 1333.8,891.1 1334,893.6 1334.2,896.1 1334.3,898.6 1334.5,901.1 1334.7,903.5 1334.9,906 1335.1,908.5 1335.3,911 1335.5,913.5 1335.7,916 1335.9,918.5 1336,920.9 1336.2,923.4 1336.4,925.9 1336.6,928.4 1336.8,930.9 1337.1,933.4 1337.3,935.9 1337.5,938.3 1337.7,940.8 1337.9,943.3 1338.1,945.8 1338.3,948.3 1338.6,950.8 1338.8,953.2 1339.1,955.7 1339.3,958.2 1339.6,960.7 1339.9,963.1 1340.2,965.6 1340.5,968.1 1340.9,970.6 1341.2,973 1341.6,975.5 1342,978 1342.4,980.4 1342.8,982.9 1343.2,985.3 1343.7,987.8 1344.2,990.2 1344.7,992.7 1345.3,995.1 1345.9,997.6 1346.5,1000 1347.1,1002.4 1347.8,1004.8 1348.5,1007.3 1349.2,1009.6 1350.1,1012 1351.1,1014.2 1352.3,1016.3 1353.8,1018.2 1355.5,1020 1357.6,1021.4 1360.1,1022.6 1360.1,1024" fill="#48B985" fill-opacity="0.33"/>
<polyline points="1263.59,1020.73 1265.73,1019.30 1267.44,1017.54 1268.80,1015.53 1269.88,1013.32 1270.77,1010.97 1271.55,1008.57 1272.27,1006.15 1272.96,1003.73 1273.61,1001.30 1274.23,998.87 1274.83,996.44 1275.39,994.01 1275.93,991.57 1276.44,989.13 1276.93,986.69 1277.41,984.25 1277.86,981.80 1278.30,979.35 1278.73,976.90 1279.15,974.45 1279.55,971.99 1279.95,969.53 1280.33,967.07 1280.70,964.61 1281.07,962.15 1281.42,959.68 1281.76,957.21 1282.09,954.74 1282.42,952.27 1282.73,949.80 1283.04,947.33 1283.34,944.85 1283.63,942.38 1283.91,939.90 1284.18,937.42 1284.45,934.94 1284.71,932.46 1284.97,929.98 1285.22,927.50 1285.46,925.02 1285.69,922.53 1285.93,920.05 1286.15,917.57 1286.37,915.08 1286.59,912.60 1286.81,910.11 1287.01,907.63 1287.22,905.14 1287.42,902.66 1287.62,900.17 1287.81,897.68 1288.00,895.20 1288.19,892.71 1288.37,890.22 1288.55,887.74 1288.72,885.25 1288.90,882.76 1289.07,880.27 1289.23,877.78 1289.40,875.30 1289.56,872.81 1289.72,870.32 1289.87,867.83 1290.02,865.34 1290.17,862.85 1290.32,860.36 1290.47,857.87 1290.61,855.38 1290.75,852.90 1290.89,850.41 1291.03,847.92 1291.17,845.43 1291.30,842.94 1291.43,840.45 1291.56,837.96 1291.69,835.47 1291.82,832.98 1291.95,830.49 1292.08,828.00 1292.20,825.50 1292.32,823.01 1292.45,820.52 1292.57,818.03 1292.69,815.54 1292.81,813.05 1292.93,810.56 1293.05,808.07 1293.17,805.58 1293.29,803.09 1293.41,800.60 1293.53,798.11 1293.65,795.62 1293.77,793.13 1293.89,790.64 1294.01,788.15 1294.13,785.66 1294.26,783.17 1294.38,780.68 1294.50,778.19 1294.62,775.70 1294.75,773.21 1294.88,770.72 1295.00,768.23 1295.13,765.74 1295.26,763.25 1295.39,760.76 1295.52,758.28 1295.66,755.79 1295.79,753.30 1295.93,750.81 1296.07,748.32 1296.21,745.83 1296.36,743.35 1296.50,740.86 1296.65,738.37 1296.80,735.88 1296.95,733.40 1297.10,730.91 1297.26,728.42 1297.42,725.94 1297.58,723.45 1297.74,720.96 1297.90,718.48 1298.06,715.99 1298.23,713.51 1298.40,711.02 1298.56,708.53 1298.73,706.05 1298.90,703.56 1299.08,701.08 1299.25,698.59 1299.42,696.10 1299.60,693.62 1299.78,691.13 1299.95,688.65 1300.13,686.16 1300.31,683.67 1300.49,681.19 1300.67,678.70 1300.85,676.21 1301.03,673.73 1301.22,671.24 1301.40,668.75 1301.58,666.27 1301.76,663.78 1301.95,661.29 1302.13,658.80 1302.32,656.31 1302.50,653.83 1302.68,651.34 1302.87,648.85 1303.05,646.36 1303.24,643.87 1303.42,641.38 1303.60,638.89 1303.79,636.40 1303.97,633.91 1304.15,631.42 1304.33,628.93 1304.51,626.44 1304.69,623.95 1304.87,621.45 1305.05,618.96 1305.23,616.47 1305.41,613.97 1305.58,611.48 1305.76,608.99 1305.93,606.49 1306.11,603.99 1306.28,601.50 1306.45,599.00 1306.64,596.51 1306.89,594.04 1307.21,591.58 1307.64,589.16 1308.22,586.78 1308.97,584.44 1309.92,582.17 1311.20,580.67 1312.54,582.38 1313.23,585.17 1313.71,587.81 1314.08,590.29 1314.37,592.69 1314.64,595.09 1314.91,597.51 1315.17,599.96 1315.44,602.42 1315.70,604.90 1315.97,607.39 1316.22,609.88 1316.48,612.38 1316.73,614.88 1316.98,617.37 1317.23,619.87 1317.47,622.36 1317.71,624.85 1317.94,627.34 1318.18,629.82 1318.40,632.31 1318.63,634.80 1318.85,637.28 1319.07,639.77 1319.28,642.25 1319.49,644.73 1319.70,647.22 1319.90,649.70 1320.10,652.18 1320.30,654.67 1320.49,657.15 1320.68,659.63 1320.87,662.12 1321.05,664.60 1321.23,667.09 1321.40,669.57 1321.58,672.06 1321.75,674.54 1321.91,677.03 1322.08,679.52 1322.24,682.00 1322.39,684.49 1322.55,686.98 1322.70,689.47 1322.85,691.95 1323.00,694.44 1323.15,696.93 1323.29,699.42 1323.43,701.91 1323.57,704.40 1323.71,706.89 1323.84,709.37 1323.98,711.86 1324.11,714.35 1324.24,716.84 1324.37,719.33 1324.49,721.82 1324.62,724.31 1324.75,726.81 1324.87,729.30 1324.99,731.79 1325.11,734.28 1325.24,736.77 1325.36,739.26 1325.48,741.75 1325.59,744.24 1325.71,746.73 1325.83,749.22 1325.95,751.71 1326.07,754.21 1326.18,756.70 1326.30,759.19 1326.42,761.68 1326.54,764.17 1326.66,766.66 1326.77,769.15 1326.89,771.64 1327.01,774.14 1327.13,776.63 1327.25,779.12 1327.37,781.61 1327.49,784.10 1327.62,786.59 1327.74,789.08 1327.87,791.57 1327.99,794.06 1328.12,796.55 1328.25,799.04 1328.37,801.53 1328.50,804.02 1328.64,806.51 1328.77,809.00 1328.90,811.49 1329.03,813.98 1329.17,816.47 1329.30,818.96 1329.44,821.45 1329.58,823.94 1329.72,826.42 1329.86,828.91 1330.00,831.40 1330.15,833.89 1330.29,836.38 1330.44,838.87 1330.58,841.36 1330.73,843.84 1330.88,846.33 1331.03,848.82 1331.18,851.31 1331.34,853.80 1331.49,856.29 1331.65,858.77 1331.80,861.26 1331.96,863.75 1332.12,866.24 1332.29,868.72 1332.45,871.21 1332.61,873.70 1332.78,876.19 1332.95,878.67 1333.12,881.16 1333.29,883.65 1333.46,886.13 1333.63,888.62 1333.81,891.11 1333.99,893.59 1334.17,896.08 1334.35,898.57 1334.53,901.05 1334.71,903.54 1334.90,906.02 1335.08,908.51 1335.27,911.00 1335.46,913.48 1335.66,915.97 1335.85,918.45 1336.05,920.94 1336.24,923.42 1336.44,925.91 1336.65,928.40 1336.85,930.88 1337.05,933.37 1337.26,935.85 1337.47,938.34 1337.68,940.82 1337.90,943.31 1338.12,945.79 1338.35,948.27 1338.58,950.75 1338.83,953.24 1339.08,955.72 1339.34,958.20 1339.62,960.67 1339.91,963.15 1340.21,965.62 1340.52,968.09 1340.86,970.56 1341.21,973.03 1341.57,975.50 1341.96,977.96 1342.37,980.42 1342.79,982.88 1343.24,985.33 1343.72,987.78 1344.21,990.23 1344.74,992.67 1345.29,995.11 1345.87,997.55 1346.47,999.98 1347.11,1002.41 1347.78,1004.84 1348.48,1007.26 1349.24,1009.65 1350.11,1011.98 1351.12,1014.21 1352.34,1016.31 1353.80,1018.24 1355.55,1019.96 1357.63,1021.44 1360.08,1022.64" fill="none" stroke="#4DAF7C" stroke-width="6.7" stroke-linejoin="round"/>
<polygon points="1324.8,1024 1324.8,1024 1327.7,1023.7 1330.2,1023.1 1332.4,1022.1 1334.3,1020.7 1336,1019.2 1337.5,1017.3 1338.8,1015.3 1339.9,1013.2 1340.9,1010.9 1341.8,1008.5 1342.6,1006.1 1343.3,1003.7 1344,1001.2 1344.7,998.8 1345.3,996.4 1345.9,994 1346.4,991.5 1347,989.1 1347.4,986.7 1347.9,984.2 1348.3,981.8 1348.7,979.4 1349.1,976.9 1349.4,974.5 1349.8,972 1350.1,969.6 1350.4,967.2 1350.7,964.7 1350.9,962.3 1351.2,959.8 1351.4,957.4 1351.7,954.9 1351.9,952.5 1352.2,950 1352.4,947.6 1352.6,945.1 1352.8,942.6 1353,940.2 1353.2,937.7 1353.4,935.3 1353.6,932.8 1353.8,930.3 1354,927.9 1354.2,925.4 1354.4,922.9 1354.6,920.5 1354.8,918 1354.9,915.5 1355.1,913.1 1355.3,910.6 1355.4,908.1 1355.6,905.6 1355.8,903.2 1355.9,900.7 1356.1,898.2 1356.2,895.8 1356.4,893.3 1356.5,890.8 1356.7,888.3 1356.8,885.9 1357,883.4 1357.1,880.9 1357.3,878.5 1357.4,876 1357.6,873.5 1357.7,871 1357.9,868.6 1358,866.1 1358.2,863.6 1358.3,861.2 1358.5,858.7 1358.6,856.2 1358.8,853.8 1358.9,851.3 1359.1,848.8 1359.2,846.4 1359.4,843.9 1359.5,841.4 1359.6,839 1359.7,836.5 1359.9,834 1360,831.6 1360.1,829.1 1360.2,826.6 1360.3,824.2 1360.4,821.7 1360.4,819.2 1360.5,816.8 1360.6,814.3 1360.6,811.8 1360.7,809.4 1360.7,806.9 1360.8,804.4 1360.8,801.9 1360.9,799.5 1360.9,797 1360.9,794.5 1361,792.1 1361,789.6 1361,787.1 1361.1,784.6 1361.1,782.2 1361.2,779.7 1361.2,777.2 1361.3,774.8 1361.3,772.3 1361.4,769.8 1361.5,767.3 1361.5,764.9 1361.6,762.4 1361.7,759.9 1361.8,757.4 1361.9,755 1362,752.5 1362.1,750 1362.1,747.6 1362.3,745.1 1362.4,742.6 1362.5,740.1 1362.6,737.7 1362.7,735.2 1362.8,732.7 1362.9,730.3 1363,727.8 1363.2,725.3 1363.3,722.8 1363.4,720.4 1363.6,717.9 1363.7,715.4 1363.8,713 1364,710.5 1364.1,708 1364.3,705.5 1364.4,703.1 1364.6,700.6 1364.7,698.1 1364.9,695.7 1365,693.2 1365.2,690.7 1365.3,688.3 1365.5,685.8 1365.7,683.3 1365.8,680.9 1366,678.4 1366.2,675.9 1366.3,673.5 1366.5,671 1366.7,668.5 1366.9,666.1 1367,663.6 1367.2,661.2 1367.4,658.7 1367.6,656.2 1367.7,653.8 1367.9,651.3 1368.1,648.9 1368.3,646.4 1368.5,643.9 1368.7,641.5 1368.9,639 1369.1,636.6 1369.3,634.1 1369.6,631.7 1369.8,629.2 1370.1,626.7 1370.4,624.3 1370.7,621.8 1371,619.4 1371.3,616.9 1371.7,614.5 1372,612 1372.4,609.5 1372.8,607.1 1373.2,604.6 1373.7,602.2 1374.2,599.7 1374.7,597.2 1375.3,594.8 1375.9,592.4 1376.8,590.1 1377.9,588 1379.2,586 1380.8,584.4 1382.5,584.9 1383.7,587.2 1384.3,589.7 1384.6,592.2 1384.9,594.7 1385.2,597.2 1385.4,599.6 1385.6,602.1 1385.8,604.6 1386,607.1 1386.2,609.5 1386.3,612 1386.4,614.5 1386.5,616.9 1386.7,619.4 1386.8,621.9 1386.9,624.3 1387,626.8 1387.1,629.3 1387.2,631.7 1387.3,634.2 1387.4,636.7 1387.5,639.1 1387.7,641.6 1387.8,644.1 1387.9,646.5 1388,649 1388.1,651.5 1388.3,653.9 1388.4,656.4 1388.5,658.9 1388.6,661.3 1388.8,663.8 1388.9,666.3 1389,668.7 1389.1,671.2 1389.3,673.7 1389.4,676.1 1389.5,678.6 1389.7,681.1 1389.8,683.6 1389.9,686 1390,688.5 1390.2,691 1390.3,693.4 1390.4,695.9 1390.5,698.4 1390.7,700.8 1390.8,703.3 1390.9,705.8 1391,708.2 1391.2,710.7 1391.3,713.2 1391.4,715.7 1391.5,718.1 1391.7,720.6 1391.8,723.1 1391.9,725.5 1392,728 1392.1,730.5 1392.2,733 1392.4,735.4 1392.5,737.9 1392.6,740.4 1392.7,742.8 1392.8,745.3 1392.9,747.8 1393,750.2 1393.1,752.7 1393.2,755.2 1393.3,757.7 1393.4,760.1 1393.5,762.6 1393.6,765.1 1393.7,767.5 1393.8,770 1393.9,772.5 1394,775 1394,777.4 1394.1,779.9 1394.2,782.4 1394.3,784.8 1394.4,787.3 1394.5,789.8 1394.6,792.3 1394.7,794.7 1394.7,797.2 1394.8,799.7 1394.9,802.1 1395,804.6 1395.1,807.1 1395.2,809.6 1395.3,812 1395.4,814.5 1395.5,817 1395.5,819.4 1395.6,821.9 1395.7,824.4 1395.8,826.8 1395.9,829.3 1396,831.8 1396.1,834.3 1396.2,836.7 1396.3,839.2 1396.4,841.7 1396.5,844.1 1396.6,846.6 1396.7,849.1 1396.9,851.5 1397,854 1397.1,856.5 1397.2,858.9 1397.3,861.4 1397.5,863.9 1397.6,866.4 1397.7,868.8 1397.8,871.3 1398,873.8 1398.1,876.2 1398.3,878.7 1398.4,881.2 1398.5,883.6 1398.7,886.1 1398.9,888.6 1399,891 1399.2,893.5 1399.3,896 1399.5,898.4 1399.7,900.9 1399.9,903.3 1400,905.8 1400.2,908.3 1400.4,910.7 1400.6,913.2 1400.8,915.7 1401,918.1 1401.2,920.6 1401.4,923.1 1401.7,925.5 1401.9,928 1402.1,930.4 1402.3,932.9 1402.5,935.4 1402.8,937.8 1403,940.3 1403.2,942.8 1403.5,945.2 1403.7,947.7 1403.9,950.2 1404.2,952.7 1404.4,955.1 1404.6,957.6 1404.8,960.1 1405.1,962.5 1405.4,965 1405.7,967.5 1406,969.9 1406.4,972.3 1406.8,974.8 1407.3,977.2 1407.8,979.6 1408.4,982 1409.1,984.3 1409.9,986.7 1410.7,989 1411.6,991.3 1412.5,993.6 1413.5,995.9 1414.5,998.1 1415.5,1000.4 1416.5,1002.7 1417.4,1005 1418.4,1007.3 1419.2,1009.6 1420,1011.9 1420.7,1014.3 1420.7,1024" fill="#2A6A46" fill-opacity="0.3"/>
<polyline points="1324.80,1023.98 1327.66,1023.71 1330.18,1023.05 1332.40,1022.05 1334.34,1020.74 1336.03,1019.16 1337.50,1017.34 1338.79,1015.33 1339.90,1013.16 1340.89,1010.87 1341.77,1008.50 1342.57,1006.09 1343.32,1003.67 1344.02,1001.24 1344.68,998.82 1345.31,996.39 1345.89,993.96 1346.44,991.53 1346.95,989.10 1347.44,986.67 1347.89,984.23 1348.31,981.80 1348.71,979.36 1349.08,976.92 1349.43,974.48 1349.76,972.04 1350.08,969.60 1350.37,967.16 1350.66,964.71 1350.93,962.27 1351.19,959.82 1351.44,957.37 1351.68,954.92 1351.92,952.46 1352.16,950.01 1352.39,947.55 1352.61,945.10 1352.83,942.64 1353.04,940.18 1353.25,937.72 1353.45,935.25 1353.65,932.79 1353.84,930.33 1354.03,927.86 1354.22,925.40 1354.40,922.93 1354.58,920.46 1354.76,917.99 1354.93,915.52 1355.10,913.05 1355.27,910.58 1355.44,908.11 1355.60,905.64 1355.76,903.17 1355.92,900.70 1356.07,898.23 1356.23,895.76 1356.38,893.28 1356.54,890.81 1356.69,888.34 1356.84,885.87 1356.99,883.40 1357.14,880.92 1357.29,878.45 1357.44,875.98 1357.59,873.51 1357.74,871.04 1357.89,868.57 1358.04,866.10 1358.19,863.63 1358.34,861.16 1358.49,858.70 1358.64,856.23 1358.78,853.76 1358.93,851.30 1359.07,848.83 1359.21,846.36 1359.35,843.90 1359.48,841.43 1359.61,838.96 1359.74,836.50 1359.86,834.03 1359.97,831.57 1360.08,829.10 1360.18,826.63 1360.28,824.16 1360.36,821.70 1360.44,819.23 1360.52,816.76 1360.58,814.29 1360.64,811.82 1360.69,809.35 1360.74,806.88 1360.78,804.41 1360.82,801.94 1360.86,799.47 1360.89,797.00 1360.93,794.53 1360.96,792.06 1361.00,789.59 1361.03,787.11 1361.07,784.64 1361.12,782.17 1361.17,779.70 1361.22,777.23 1361.27,774.75 1361.33,772.28 1361.40,769.81 1361.47,767.34 1361.54,764.86 1361.62,762.39 1361.70,759.92 1361.78,757.44 1361.87,754.97 1361.96,752.50 1362.05,750.03 1362.15,747.55 1362.25,745.08 1362.35,742.61 1362.46,740.14 1362.57,737.67 1362.69,735.19 1362.80,732.72 1362.92,730.25 1363.05,727.78 1363.17,725.31 1363.30,722.84 1363.43,720.37 1363.57,717.89 1363.70,715.42 1363.84,712.95 1363.98,710.48 1364.13,708.01 1364.27,705.55 1364.42,703.08 1364.57,700.61 1364.72,698.14 1364.88,695.67 1365.03,693.20 1365.19,690.74 1365.35,688.27 1365.51,685.80 1365.67,683.34 1365.84,680.87 1366.01,678.41 1366.17,675.94 1366.34,673.48 1366.51,671.01 1366.68,668.55 1366.86,666.09 1367.03,663.62 1367.21,661.16 1367.38,658.70 1367.56,656.24 1367.74,653.78 1367.92,651.32 1368.10,648.86 1368.29,646.40 1368.49,643.94 1368.69,641.48 1368.90,639.03 1369.12,636.57 1369.35,634.11 1369.59,631.65 1369.84,629.20 1370.10,626.74 1370.38,624.28 1370.68,621.82 1370.99,619.37 1371.31,616.91 1371.66,614.45 1372.03,611.99 1372.41,609.53 1372.82,607.07 1373.25,604.62 1373.70,602.16 1374.17,599.70 1374.68,597.24 1375.25,594.81 1375.94,592.43 1376.80,590.14 1377.87,587.98 1379.21,585.97 1380.84,584.39 1382.52,584.87 1383.74,587.19 1384.31,589.71 1384.64,592.19 1384.93,594.68 1385.19,597.16 1385.43,599.63 1385.64,602.11 1385.83,604.58 1386.00,607.05 1386.15,609.52 1386.29,611.99 1386.42,614.46 1386.54,616.93 1386.66,619.39 1386.77,621.86 1386.87,624.33 1386.98,626.79 1387.09,629.26 1387.20,631.73 1387.32,634.19 1387.43,636.66 1387.55,639.13 1387.67,641.60 1387.78,644.06 1387.90,646.53 1388.03,649.00 1388.15,651.47 1388.27,653.93 1388.39,656.40 1388.52,658.87 1388.64,661.34 1388.77,663.81 1388.89,666.27 1389.02,668.74 1389.15,671.21 1389.27,673.68 1389.40,676.15 1389.53,678.62 1389.66,681.09 1389.78,683.55 1389.91,686.02 1390.04,688.49 1390.17,690.96 1390.29,693.43 1390.42,695.90 1390.55,698.37 1390.67,700.84 1390.80,703.31 1390.93,705.78 1391.05,708.25 1391.17,710.72 1391.30,713.19 1391.42,715.66 1391.54,718.13 1391.66,720.60 1391.78,723.07 1391.90,725.54 1392.02,728.01 1392.13,730.48 1392.25,732.95 1392.36,735.42 1392.47,737.89 1392.58,740.36 1392.69,742.83 1392.80,745.31 1392.90,747.78 1393.00,750.25 1393.11,752.72 1393.21,755.19 1393.30,757.66 1393.40,760.13 1393.50,762.60 1393.59,765.07 1393.68,767.55 1393.78,770.02 1393.87,772.49 1393.96,774.96 1394.05,777.43 1394.14,779.90 1394.23,782.37 1394.31,784.84 1394.40,787.31 1394.49,789.79 1394.58,792.26 1394.66,794.73 1394.75,797.20 1394.84,799.67 1394.92,802.14 1395.01,804.61 1395.10,807.08 1395.19,809.55 1395.28,812.02 1395.37,814.50 1395.46,816.97 1395.55,819.44 1395.64,821.91 1395.73,824.38 1395.83,826.85 1395.93,829.32 1396.02,831.79 1396.12,834.26 1396.22,836.73 1396.32,839.20 1396.43,841.67 1396.53,844.14 1396.64,846.60 1396.75,849.07 1396.86,851.54 1396.97,854.01 1397.09,856.48 1397.21,858.95 1397.33,861.42 1397.45,863.89 1397.58,866.35 1397.71,868.82 1397.84,871.29 1397.97,873.76 1398.11,876.22 1398.25,878.69 1398.40,881.16 1398.55,883.62 1398.70,886.09 1398.85,888.56 1399.01,891.02 1399.17,893.49 1399.34,895.95 1399.51,898.42 1399.68,900.88 1399.86,903.35 1400.04,905.81 1400.23,908.28 1400.42,910.74 1400.62,913.21 1400.82,915.67 1401.02,918.13 1401.23,920.60 1401.44,923.06 1401.66,925.52 1401.88,927.99 1402.10,930.45 1402.32,932.91 1402.55,935.38 1402.77,937.84 1403.00,940.31 1403.23,942.78 1403.46,945.24 1403.69,947.71 1403.92,950.18 1404.15,952.65 1404.38,955.12 1404.61,957.60 1404.85,960.07 1405.10,962.54 1405.37,965.00 1405.67,967.46 1406.00,969.91 1406.38,972.35 1406.80,974.77 1407.28,977.19 1407.81,979.58 1408.42,981.96 1409.10,984.32 1409.85,986.66 1410.69,988.98 1411.58,991.28 1412.53,993.57 1413.51,995.85 1414.50,998.13 1415.50,1000.41 1416.49,1002.69 1417.44,1004.98 1418.36,1007.27 1419.22,1009.59 1420.01,1011.92 1420.71,1014.28" fill="none" stroke="#2A6A46" stroke-width="6.7" stroke-linejoin="round"/>
<rect x="1133.7" y="655.9" width="144.3" height="58.1" rx="6" fill="#F8F8F8" fill-opacity="0.8"/>
<text transform="translate(1206.05 693.25) rotate(0.03)" text-anchor="middle" font-size="31.5" fill="#4DAF7C" font-weight="bold" font-style="italic" fill-opacity="0.85">BF = 9.1</text>
<rect x="1399.1" y="655.9" width="173.3" height="58.1" rx="6" fill="#F8F8F8" fill-opacity="0.8"/>
<text transform="translate(1485.95 693.25) rotate(0.03)" text-anchor="middle" font-size="31.5" fill="#2A6A46" font-weight="bold" font-style="italic" fill-opacity="0.85">BF = 1599</text>
<text transform="translate(966.40 806.45) rotate(0.03)" font-size="34" fill="#000" style="font-family:'DejaVu Sans',sans-serif">←</text>
<text transform="translate(1004.80 806.45) rotate(0.03) scale(0.96 1)" font-size="33.0" fill="#000">Slower</text>
<text transform="translate(1559.60 806.45) rotate(0.03) scale(0.96 1)" font-size="33.0" fill="#000">Faster</text>
<text transform="translate(1659.20 806.45) rotate(0.03)" font-size="34" fill="#000" style="font-family:'DejaVu Sans',sans-serif">→</text>
</g>
</g>
<rect x="958.0" y="559.8" width="744.3" height="485.7" fill="none" stroke="#727272" stroke-width="1.6"/>
<line x1="957.2" x2="1702.3" y1="1045.5" y2="1045.5" stroke="#4A4A4A" stroke-width="1.6"/>
<line x1="1702.3" x2="1702.3" y1="559" y2="1046.2" stroke="#222" stroke-width="4.8"/>
<line x1="1012.5" x2="1012.5" y1="1046" y2="1057" stroke="#1A1A1A" stroke-width="1.6"/>
<text transform="translate(1011.90 1088.15) rotate(0.03) scale(0.94 1)" text-anchor="middle" font-size="32.8" fill="#444444">-15%</text>
<line x1="1118" x2="1118" y1="1046" y2="1057" stroke="#1A1A1A" stroke-width="1.6"/>
<text transform="translate(1117.40 1088.15) rotate(0.03) scale(0.94 1)" text-anchor="middle" font-size="32.8" fill="#444444">-10%</text>
<line x1="1223.5" x2="1223.5" y1="1046" y2="1057" stroke="#1A1A1A" stroke-width="1.6"/>
<text transform="translate(1222.90 1088.15) rotate(0.03) scale(0.94 1)" text-anchor="middle" font-size="32.8" fill="#444444">-5%</text>
<line x1="1329" x2="1329" y1="1046" y2="1057" stroke="#1A1A1A" stroke-width="1.6"/>
<text transform="translate(1329.00 1088.15) rotate(0.03) scale(0.94 1)" text-anchor="middle" font-size="32.8" fill="#444444">0%</text>
<line x1="1434.5" x2="1434.5" y1="1046" y2="1057" stroke="#1A1A1A" stroke-width="1.6"/>
<text transform="translate(1434.50 1088.15) rotate(0.03) scale(0.94 1)" text-anchor="middle" font-size="32.8" fill="#444444">5%</text>
<line x1="1540" x2="1540" y1="1046" y2="1057" stroke="#1A1A1A" stroke-width="1.6"/>
<text transform="translate(1540.00 1088.15) rotate(0.03) scale(0.94 1)" text-anchor="middle" font-size="32.8" fill="#444444">10%</text>
<line x1="1645.5" x2="1645.5" y1="1046" y2="1057" stroke="#1A1A1A" stroke-width="1.6"/>
<text transform="translate(1645.50 1088.15) rotate(0.03) scale(0.94 1)" text-anchor="middle" font-size="32.8" fill="#444444">15%</text>
<text transform="translate(1724.50 802.60) rotate(90) scale(0.925 1)" text-anchor="middle" font-size="33.5" fill="#111" font-weight="bold">15 °C</text>
<g>
<rect x="161.3" y="1116.9" width="741.8" height="485.7" fill="#F7F7F7"/>
<g clip-path="url(#cl2)">
<line x1="282.1" x2="282.1" y1="1116.9" y2="1602.6" stroke="#E8E8E8" stroke-width="1.0"/>
<line x1="457.4" x2="457.4" y1="1116.9" y2="1602.6" stroke="#E8E8E8" stroke-width="1.0"/>
<line x1="632.6" x2="632.6" y1="1116.9" y2="1602.6" stroke="#E8E8E8" stroke-width="1.0"/>
<line x1="808" x2="808" y1="1116.9" y2="1602.6" stroke="#E8E8E8" stroke-width="1.0"/>
<line x1="161.3" x2="903.1" y1="1230.6" y2="1230.6" stroke="#E8E8E8" stroke-width="1.0"/>
<line x1="161.3" x2="903.1" y1="1451.7" y2="1451.7" stroke="#E8E8E8" stroke-width="1.0"/>
<line x1="194.4" x2="194.4" y1="1116.9" y2="1602.6" stroke="#D2D2D2" stroke-width="1.8"/>
<line x1="369.7" x2="369.7" y1="1116.9" y2="1602.6" stroke="#D2D2D2" stroke-width="1.8"/>
<line x1="545" x2="545" y1="1116.9" y2="1602.6" stroke="#D2D2D2" stroke-width="1.8"/>
<line x1="720.3" x2="720.3" y1="1116.9" y2="1602.6" stroke="#D2D2D2" stroke-width="1.8"/>
<line x1="895.6" x2="895.6" y1="1116.9" y2="1602.6" stroke="#D2D2D2" stroke-width="1.8"/>
<line x1="161.3" x2="903.1" y1="1138.8" y2="1138.8" stroke="#D2D2D2" stroke-width="1.8"/>
<line x1="161.3" x2="903.1" y1="1359.9" y2="1359.9" stroke="#D2D2D2" stroke-width="1.8"/>
<line x1="161.3" x2="903.1" y1="1581" y2="1581" stroke="#D2D2D2" stroke-width="1.8"/>
<polygon points="255.8,1350.9 317.1,1354.7 378.5,1354.7 439.8,1352.2 501.2,1348 562.5,1355.9 623.9,1357 685.2,1357 746.6,1357 808,1357.5 869.3,1358 869.3,1361.6 808,1362.1 746.6,1362.6 685.2,1362.6 623.9,1362.6 562.5,1363.7 501.2,1371.6 439.8,1367.4 378.5,1364.9 317.1,1364.9 255.8,1368.7" fill="#CFC08A" fill-opacity="0.25"/>
<polygon points="255.8,1382.4 317.1,1371.7 378.5,1372.9 439.8,1366.6 501.2,1364.8 562.5,1355.3 623.9,1354 685.2,1354 746.6,1351.9 808,1354 869.3,1354 869.3,1360.4 808,1362.2 746.6,1363.5 685.2,1365.8 623.9,1363.5 562.5,1362.9 501.2,1385.9 439.8,1390.6 378.5,1389.3 317.1,1388 255.8,1404.4" fill="#D0AE34" fill-opacity="0.31"/>
<polygon points="255.8,1388 317.1,1369.2 378.5,1340.2 439.8,1275.6 501.2,1247.6 562.5,1334.5 623.9,1354 685.2,1373.6 746.6,1369.8 808,1362.9 869.3,1356 869.3,1364.8 808,1373.6 746.6,1381.8 685.2,1386.2 623.9,1357.8 562.5,1341.5 501.2,1279.5 439.8,1306.2 378.5,1363.5 317.1,1388 255.8,1410.7" fill="#7F6220" fill-opacity="0.3"/>
<polyline points="255.8,1359.8 317.1,1359.8 378.5,1359.8 439.8,1359.8 501.2,1359.8 562.5,1359.8 623.9,1359.8 685.2,1359.8 746.6,1359.8 808,1359.8 869.3,1359.8" fill="none" stroke="#D6BD84" stroke-width="4.2" stroke-linejoin="round"/>
<polyline points="255.8,1393.7 317.1,1379.2 378.5,1380.8 439.8,1379.2 501.2,1372.3 562.5,1359.1 623.9,1359.1 685.2,1359.7 746.6,1358.2 808,1358.7 869.3,1357.5" fill="none" stroke="#DDA42E" stroke-width="4.5" stroke-linejoin="round"/>
<polyline points="255.8,1399.4 317.1,1378.6 378.5,1352.8 439.8,1291.5 501.2,1261.5 562.5,1337.7 623.9,1356 685.2,1379.6 746.6,1375.5 808,1367.9 869.3,1359.5" fill="none" stroke="#7F6220" stroke-width="4.6" stroke-linejoin="round"/>
</g>
<rect x="161.3" y="1116.9" width="741.8" height="485.7" fill="none" stroke="#727272" stroke-width="1.6"/>
<line x1="160.5" x2="903.9" y1="1602.6" y2="1602.6" stroke="#4A4A4A" stroke-width="1.6"/>
<line x1="149.8" x2="160.7" y1="1138.8" y2="1138.8" stroke="#1A1A1A" stroke-width="1.6"/>
<text transform="translate(139.90 1150.60) rotate(0.03) scale(0.94 1)" text-anchor="end" font-size="32.8" fill="#444444">200%</text>
<line x1="149.8" x2="160.7" y1="1359.9" y2="1359.9" stroke="#1A1A1A" stroke-width="1.6"/>
<text transform="translate(139.90 1371.70) rotate(0.03) scale(0.94 1)" text-anchor="end" font-size="32.8" fill="#444444">100%</text>
<line x1="149.8" x2="160.7" y1="1581" y2="1581" stroke="#1A1A1A" stroke-width="1.6"/>
<text transform="translate(139.90 1592.80) rotate(0.03) scale(0.94 1)" text-anchor="end" font-size="32.8" fill="#444444">50%</text>
<line x1="194.4" x2="194.4" y1="1603.2" y2="1614.1" stroke="#1A1A1A" stroke-width="1.6"/>
<text transform="translate(194.40 1645.30) rotate(0.03) scale(0.94 1)" text-anchor="middle" font-size="32.8" fill="#444444">0</text>
<line x1="369.7" x2="369.7" y1="1603.2" y2="1614.1" stroke="#1A1A1A" stroke-width="1.6"/>
<text transform="translate(369.70 1645.30) rotate(0.03) scale(0.94 1)" text-anchor="middle" font-size="32.8" fill="#444444">20</text>
<line x1="545" x2="545" y1="1603.2" y2="1614.1" stroke="#1A1A1A" stroke-width="1.6"/>
<text transform="translate(545.00 1645.30) rotate(0.03) scale(0.94 1)" text-anchor="middle" font-size="32.8" fill="#444444">40</text>
<line x1="720.3" x2="720.3" y1="1603.2" y2="1614.1" stroke="#1A1A1A" stroke-width="1.6"/>
<text transform="translate(720.30 1645.30) rotate(0.03) scale(0.94 1)" text-anchor="middle" font-size="32.8" fill="#444444">60</text>
<line x1="895.6" x2="895.6" y1="1603.2" y2="1614.1" stroke="#1A1A1A" stroke-width="1.6"/>
<text transform="translate(895.60 1645.30) rotate(0.03) scale(0.94 1)" text-anchor="middle" font-size="32.8" fill="#444444">80</text>
</g>
<g>
<rect x="958.0" y="1116.9" width="744.3" height="485.7" fill="#F7F7F7"/>
<g clip-path="url(#cr2)">
<line x1="1065.2" x2="1065.2" y1="1116.9" y2="1602.6" stroke="#E8E8E8" stroke-width="1.0"/>
<line x1="1170.8" x2="1170.8" y1="1116.9" y2="1602.6" stroke="#E8E8E8" stroke-width="1.0"/>
<line x1="1276.2" x2="1276.2" y1="1116.9" y2="1602.6" stroke="#E8E8E8" stroke-width="1.0"/>
<line x1="1381.8" x2="1381.8" y1="1116.9" y2="1602.6" stroke="#E8E8E8" stroke-width="1.0"/>
<line x1="1487.2" x2="1487.2" y1="1116.9" y2="1602.6" stroke="#E8E8E8" stroke-width="1.0"/>
<line x1="1592.8" x2="1592.8" y1="1116.9" y2="1602.6" stroke="#E8E8E8" stroke-width="1.0"/>
<line x1="1698.2" x2="1698.2" y1="1116.9" y2="1602.6" stroke="#E8E8E8" stroke-width="1.0"/>
<line x1="958" x2="1702.3" y1="1204.8" y2="1204.8" stroke="#E8E8E8" stroke-width="1.0"/>
<line x1="958" x2="1702.3" y1="1355.3" y2="1355.3" stroke="#E8E8E8" stroke-width="1.0"/>
<line x1="958" x2="1702.3" y1="1505.9" y2="1505.9" stroke="#E8E8E8" stroke-width="1.0"/>
<line x1="1012.5" x2="1012.5" y1="1116.9" y2="1602.6" stroke="#D2D2D2" stroke-width="1.8"/>
<line x1="1118" x2="1118" y1="1116.9" y2="1602.6" stroke="#D2D2D2" stroke-width="1.8"/>
<line x1="1223.5" x2="1223.5" y1="1116.9" y2="1602.6" stroke="#D2D2D2" stroke-width="1.8"/>
<line x1="1329" x2="1329" y1="1116.9" y2="1602.6" stroke="#D2D2D2" stroke-width="1.8"/>
<line x1="1434.5" x2="1434.5" y1="1116.9" y2="1602.6" stroke="#D2D2D2" stroke-width="1.8"/>
<line x1="1540" x2="1540" y1="1116.9" y2="1602.6" stroke="#D2D2D2" stroke-width="1.8"/>
<line x1="1645.5" x2="1645.5" y1="1116.9" y2="1602.6" stroke="#D2D2D2" stroke-width="1.8"/>
<line x1="958" x2="1702.3" y1="1129.5" y2="1129.5" stroke="#D2D2D2" stroke-width="1.8"/>
<line x1="958" x2="1702.3" y1="1280.1" y2="1280.1" stroke="#D2D2D2" stroke-width="1.8"/>
<line x1="958" x2="1702.3" y1="1430.6" y2="1430.6" stroke="#D2D2D2" stroke-width="1.8"/>
<line x1="958" x2="1702.3" y1="1581.2" y2="1581.2" stroke="#D2D2D2" stroke-width="1.8"/>
<line x1="1329" x2="1329" y1="1113.6" y2="1607.6" stroke="#000" stroke-width="4.1" stroke-dasharray="16.8 16.98"/>
<polygon points="1235.1,1581.2 1235.1,1578.5 1238,1578.9 1240.9,1578.8 1243.8,1578.1 1246.6,1577.1 1249.3,1575.6 1251.8,1573.9 1254.2,1572 1256.3,1569.8 1258.2,1567.6 1259.9,1565.2 1261.4,1562.7 1262.8,1560.1 1263.9,1557.5 1264.9,1554.7 1265.9,1551.9 1266.7,1549.1 1267.4,1546.2 1268.1,1543.3 1268.7,1540.4 1269.3,1537.4 1270,1534.5 1270.6,1531.6 1271.2,1528.7 1271.8,1525.7 1272.3,1522.8 1272.9,1519.9 1273.5,1517 1274,1514 1274.6,1511.1 1275.1,1508.2 1275.7,1505.3 1276.2,1502.3 1276.7,1499.4 1277.2,1496.5 1277.7,1493.6 1278.2,1490.7 1278.7,1487.7 1279.2,1484.8 1279.7,1481.9 1280.1,1479 1280.6,1476 1281,1473.1 1281.4,1470.2 1281.9,1467.3 1282.3,1464.3 1282.7,1461.4 1283,1458.5 1283.4,1455.5 1283.8,1452.6 1284.1,1449.6 1284.5,1446.7 1284.8,1443.8 1285.1,1440.8 1285.4,1437.8 1285.7,1434.9 1286,1431.9 1286.3,1429 1286.6,1426 1286.8,1423 1287.1,1420.1 1287.4,1417.1 1287.7,1414.2 1288,1411.2 1288.3,1408.3 1288.7,1405.3 1289,1402.4 1289.4,1399.4 1289.8,1396.5 1290.3,1393.5 1290.7,1390.6 1291.2,1387.7 1291.8,1384.8 1292.4,1381.9 1293,1379 1293.6,1376.1 1294.3,1373.2 1295,1370.3 1295.7,1367.4 1296.3,1364.5 1297,1361.6 1297.7,1358.7 1298.3,1355.8 1299,1352.9 1299.6,1350 1300.1,1347.1 1300.7,1344.2 1301.2,1341.3 1301.8,1338.4 1302.4,1335.5 1302.9,1332.5 1303.5,1329.6 1304.2,1326.7 1304.8,1323.8 1305.5,1321 1306.2,1318.1 1307,1315.2 1307.7,1312.3 1308.4,1309.5 1309.1,1306.6 1309.9,1303.7 1311.3,1301 1313.5,1298.7 1316,1298.6 1317.8,1301 1319,1303.9 1319.7,1306.7 1320.2,1309.7 1320.5,1312.6 1320.9,1315.6 1321.2,1318.6 1321.5,1321.5 1322,1324.4 1322.5,1327.4 1323.1,1330.3 1323.7,1333.2 1324.5,1336 1325.2,1338.9 1326,1341.8 1326.9,1344.6 1327.7,1347.5 1328.5,1350.3 1329.3,1353.2 1330.1,1356.1 1330.8,1358.9 1331.6,1361.8 1332.2,1364.7 1332.9,1367.6 1333.5,1370.5 1334.1,1373.4 1334.7,1376.3 1335.3,1379.2 1335.8,1382.1 1336.3,1385 1336.8,1388 1337.3,1390.9 1337.7,1393.8 1338.2,1396.7 1338.6,1399.7 1339,1402.6 1339.4,1405.5 1339.8,1408.5 1340.1,1411.4 1340.5,1414.4 1340.8,1417.3 1341.2,1420.3 1341.5,1423.2 1341.8,1426.2 1342.1,1429.1 1342.5,1432.1 1342.8,1435 1343.1,1438 1343.4,1441 1343.7,1443.9 1344,1446.9 1344.4,1449.8 1344.7,1452.8 1345,1455.7 1345.3,1458.7 1345.7,1461.6 1346,1464.6 1346.4,1467.5 1346.7,1470.5 1347.1,1473.4 1347.5,1476.4 1347.9,1479.3 1348.3,1482.2 1348.7,1485.2 1349.1,1488.1 1349.6,1491 1350,1494 1350.5,1496.9 1351,1499.8 1351.5,1502.7 1352.1,1505.6 1352.6,1508.6 1353.2,1511.5 1353.8,1514.4 1354.5,1517.3 1355.1,1520.1 1355.8,1523 1356.5,1525.9 1357.2,1528.8 1358,1531.7 1358.8,1534.5 1359.6,1537.4 1360.5,1540.2 1361.3,1543.1 1362.2,1545.9 1363.1,1548.8 1364.1,1551.6 1365,1554.4 1366,1557.2 1367.1,1560 1368.3,1562.6 1369.8,1565.2 1371.6,1567.6 1373.6,1569.8 1375.8,1571.9 1378,1573.7 1378,1581.2" fill="#D0AE34" fill-opacity="0.33"/>
<polyline points="1235.09,1578.53 1238.01,1578.93 1240.92,1578.78 1243.80,1578.13 1246.60,1577.07 1249.28,1575.64 1251.83,1573.92 1254.19,1571.96 1256.33,1569.82 1258.24,1567.56 1259.93,1565.18 1261.43,1562.70 1262.75,1560.12 1263.92,1557.46 1264.95,1554.73 1265.86,1551.94 1266.68,1549.09 1267.41,1546.21 1268.09,1543.30 1268.73,1540.38 1269.35,1537.44 1269.96,1534.51 1270.56,1531.58 1271.16,1528.66 1271.75,1525.73 1272.34,1522.80 1272.91,1519.88 1273.48,1516.96 1274.04,1514.03 1274.60,1511.11 1275.14,1508.19 1275.68,1505.27 1276.21,1502.35 1276.73,1499.43 1277.24,1496.51 1277.75,1493.59 1278.24,1490.67 1278.73,1487.74 1279.20,1484.82 1279.67,1481.90 1280.13,1478.97 1280.58,1476.05 1281.01,1473.12 1281.44,1470.19 1281.86,1467.26 1282.26,1464.33 1282.66,1461.40 1283.04,1458.46 1283.42,1455.53 1283.78,1452.59 1284.13,1449.64 1284.47,1446.70 1284.80,1443.75 1285.12,1440.80 1285.42,1437.85 1285.71,1434.89 1286.00,1431.93 1286.28,1428.97 1286.56,1426.01 1286.83,1423.05 1287.11,1420.09 1287.40,1417.13 1287.70,1414.17 1288.00,1411.21 1288.33,1408.25 1288.67,1405.30 1289.03,1402.35 1289.41,1399.41 1289.82,1396.47 1290.26,1393.53 1290.73,1390.61 1291.24,1387.69 1291.78,1384.77 1292.37,1381.87 1292.98,1378.97 1293.63,1376.07 1294.29,1373.18 1294.97,1370.29 1295.65,1367.41 1296.34,1364.52 1297.02,1361.63 1297.68,1358.74 1298.33,1355.84 1298.96,1352.94 1299.55,1350.03 1300.13,1347.12 1300.69,1344.21 1301.25,1341.29 1301.80,1338.37 1302.36,1335.46 1302.94,1332.54 1303.53,1329.64 1304.16,1326.73 1304.81,1323.84 1305.51,1320.95 1306.24,1318.07 1306.98,1315.20 1307.73,1312.33 1308.45,1309.45 1309.13,1306.58 1309.93,1303.74 1311.27,1301.04 1313.48,1298.66 1315.96,1298.58 1317.84,1301.05 1319.03,1303.85 1319.73,1306.74 1320.17,1309.68 1320.53,1312.64 1320.85,1315.60 1321.18,1318.56 1321.54,1321.51 1321.97,1324.44 1322.48,1327.36 1323.08,1330.27 1323.75,1333.16 1324.47,1336.03 1325.24,1338.90 1326.04,1341.77 1326.86,1344.63 1327.69,1347.48 1328.52,1350.34 1329.32,1353.20 1330.10,1356.07 1330.85,1358.94 1331.56,1361.82 1332.25,1364.70 1332.90,1367.59 1333.53,1370.49 1334.14,1373.39 1334.72,1376.29 1335.27,1379.20 1335.80,1382.11 1336.32,1385.03 1336.81,1387.95 1337.28,1390.88 1337.73,1393.80 1338.17,1396.74 1338.59,1399.67 1338.99,1402.61 1339.38,1405.55 1339.76,1408.49 1340.13,1411.43 1340.48,1414.38 1340.83,1417.33 1341.17,1420.28 1341.50,1423.23 1341.83,1426.18 1342.15,1429.14 1342.47,1432.09 1342.78,1435.05 1343.10,1438.00 1343.41,1440.96 1343.72,1443.91 1344.04,1446.87 1344.35,1449.82 1344.67,1452.77 1345.00,1455.73 1345.33,1458.68 1345.67,1461.63 1346.01,1464.58 1346.36,1467.53 1346.72,1470.47 1347.09,1473.42 1347.47,1476.36 1347.86,1479.30 1348.27,1482.24 1348.69,1485.18 1349.12,1488.11 1349.57,1491.04 1350.03,1493.97 1350.52,1496.89 1351.02,1499.81 1351.54,1502.73 1352.08,1505.64 1352.64,1508.55 1353.23,1511.46 1353.83,1514.36 1354.46,1517.26 1355.12,1520.15 1355.80,1523.04 1356.51,1525.92 1357.25,1528.79 1358.01,1531.67 1358.80,1534.53 1359.61,1537.39 1360.45,1540.24 1361.32,1543.09 1362.21,1545.93 1363.12,1548.76 1364.05,1551.58 1365.01,1554.40 1366.00,1557.20 1367.08,1559.96 1368.32,1562.64 1369.80,1565.20 1371.57,1567.59 1373.58,1569.82 1375.76,1571.87 1378.04,1573.73" fill="none" stroke="#DDA42E" stroke-width="6.7" stroke-linejoin="round"/>
<polygon points="1396.4,1581.2 1396.4,1579.6 1399.1,1579.2 1401.7,1578.6 1404.3,1577.8 1406.9,1576.8 1409.4,1575.7 1411.8,1574.5 1414.2,1573.1 1416.5,1571.7 1418.8,1570.1 1421,1568.5 1423.1,1566.8 1425.2,1565 1427.2,1563.2 1429.2,1561.2 1430.9,1559.2 1432.6,1557.1 1434.1,1554.8 1435.4,1552.4 1436.6,1550 1437.7,1547.5 1438.7,1544.9 1439.7,1542.3 1440.6,1539.7 1441.5,1537.1 1442.3,1534.5 1443.1,1531.9 1443.9,1529.3 1444.6,1526.7 1445.3,1524.1 1446,1521.4 1446.7,1518.8 1447.3,1516.1 1447.9,1513.5 1448.5,1510.8 1449.1,1508.2 1449.7,1505.5 1450.3,1502.8 1450.9,1500.2 1451.4,1497.5 1452,1494.8 1452.6,1492.2 1453.1,1489.5 1453.7,1486.8 1454.3,1484.1 1454.8,1481.5 1455.4,1478.8 1456,1476.1 1456.6,1473.5 1457.3,1470.8 1457.9,1468.2 1458.6,1465.5 1459.2,1462.9 1460,1460.2 1460.7,1457.6 1461.5,1455 1462.3,1452.4 1463.2,1449.8 1464.2,1447.3 1465.2,1444.7 1466.2,1442.2 1467.3,1439.7 1468.3,1437.2 1469.3,1434.6 1470.2,1432.1 1471,1429.5 1471.8,1426.9 1472.6,1424.2 1473.3,1421.6 1474,1418.9 1474.6,1416.3 1475.2,1413.6 1475.8,1410.9 1476.3,1408.2 1476.8,1405.5 1477.3,1402.9 1477.8,1400.2 1478.3,1397.5 1478.8,1394.8 1479.2,1392.1 1479.7,1389.5 1480.2,1386.8 1480.6,1384.1 1481.1,1381.5 1481.6,1378.8 1482,1376.1 1482.5,1373.4 1482.9,1370.8 1483.4,1368.1 1483.9,1365.4 1484.3,1362.7 1484.8,1360 1485.3,1357.2 1485.7,1354.5 1486.2,1351.7 1486.7,1349 1487.4,1346.3 1488.2,1343.7 1489.2,1341.2 1490.5,1338.9 1492.2,1336.8 1494.3,1335.1 1496.6,1335.1 1498.6,1336.7 1500,1339.1 1500.9,1342 1501.7,1344.8 1502.4,1347.5 1503.1,1350.1 1503.7,1352.7 1504.3,1355.3 1504.9,1358 1505.5,1360.6 1506.1,1363.2 1506.6,1365.9 1507.1,1368.6 1507.6,1371.2 1508.1,1373.9 1508.6,1376.6 1509.1,1379.3 1509.6,1382 1510,1384.7 1510.5,1387.4 1510.9,1390.1 1511.4,1392.8 1511.8,1395.5 1512.3,1398.2 1512.7,1400.9 1513.1,1403.6 1513.6,1406.3 1514,1409 1514.5,1411.7 1514.9,1414.4 1515.3,1417.1 1515.8,1419.8 1516.2,1422.5 1516.7,1425.1 1517.1,1427.8 1517.6,1430.5 1518.1,1433.2 1518.5,1435.9 1519,1438.6 1519.5,1441.3 1520,1443.9 1520.5,1446.6 1521,1449.3 1521.5,1452 1522.1,1454.6 1522.6,1457.3 1523.2,1460 1523.8,1462.6 1524.3,1465.3 1524.9,1468 1525.6,1470.6 1526.2,1473.3 1526.8,1475.9 1527.5,1478.6 1528.2,1481.2 1528.9,1483.9 1529.5,1486.5 1530.2,1489.2 1531,1491.8 1531.7,1494.4 1532.4,1497.1 1533.1,1499.7 1533.8,1502.4 1534.5,1505 1535.2,1507.6 1535.8,1510.3 1536.5,1512.9 1537.1,1515.6 1537.8,1518.2 1538.4,1520.9 1539,1523.5 1539.6,1526.2 1540.3,1528.8 1540.9,1531.5 1541.6,1534.1 1542.4,1536.7 1543.2,1539.4 1544,1542 1545,1544.6 1546.1,1547 1547.5,1549.4 1549.1,1551.5 1550.9,1553.6 1552.7,1555.7 1554.3,1557.8 1555.8,1560.2 1556.9,1562.6 1558,1565.2 1559.2,1567.7 1560.6,1570 1562.3,1572.2 1564.3,1574 1566.5,1575.6 1568.8,1576.8 1571.4,1577.7 1574.2,1578.2 1577,1578.3 1577,1581.2" fill="#7F6220" fill-opacity="0.3"/>
<polyline points="1396.37,1579.64 1399.08,1579.19 1401.74,1578.56 1404.34,1577.76 1406.88,1576.80 1409.36,1575.70 1411.79,1574.47 1414.17,1573.12 1416.49,1571.67 1418.75,1570.12 1420.97,1568.49 1423.13,1566.79 1425.22,1565.02 1427.24,1563.17 1429.15,1561.23 1430.95,1559.20 1432.60,1557.06 1434.10,1554.81 1435.44,1552.44 1436.63,1549.98 1437.71,1547.45 1438.72,1544.89 1439.68,1542.32 1440.59,1539.73 1441.47,1537.14 1442.31,1534.54 1443.11,1531.93 1443.88,1529.31 1444.62,1526.69 1445.33,1524.06 1446.01,1521.42 1446.68,1518.78 1447.32,1516.13 1447.94,1513.48 1448.55,1510.82 1449.14,1508.16 1449.73,1505.50 1450.30,1502.83 1450.87,1500.16 1451.43,1497.49 1452.00,1494.82 1452.56,1492.15 1453.12,1489.48 1453.68,1486.81 1454.25,1484.14 1454.83,1481.47 1455.42,1478.80 1456.02,1476.14 1456.63,1473.48 1457.26,1470.82 1457.90,1468.17 1458.56,1465.52 1459.25,1462.87 1459.96,1460.24 1460.71,1457.61 1461.49,1455.00 1462.33,1452.41 1463.21,1449.83 1464.16,1447.28 1465.17,1444.75 1466.22,1442.23 1467.28,1439.72 1468.31,1437.19 1469.28,1434.65 1470.19,1432.08 1471.05,1429.48 1471.85,1426.87 1472.60,1424.24 1473.30,1421.60 1473.97,1418.95 1474.59,1416.28 1475.19,1413.60 1475.75,1410.92 1476.29,1408.23 1476.81,1405.54 1477.31,1402.85 1477.80,1400.16 1478.28,1397.48 1478.75,1394.80 1479.22,1392.12 1479.69,1389.45 1480.16,1386.79 1480.62,1384.12 1481.09,1381.45 1481.55,1378.78 1482.01,1376.11 1482.47,1373.44 1482.94,1370.76 1483.40,1368.07 1483.86,1365.38 1484.33,1362.67 1484.80,1359.96 1485.27,1357.23 1485.74,1354.49 1486.22,1351.73 1486.75,1348.99 1487.37,1346.29 1488.17,1343.68 1489.20,1341.19 1490.53,1338.87 1492.22,1336.75 1494.29,1335.14 1496.57,1335.09 1498.61,1336.67 1500.00,1339.13 1500.94,1341.98 1501.73,1344.80 1502.44,1347.50 1503.10,1350.12 1503.73,1352.72 1504.34,1355.33 1504.93,1357.96 1505.50,1360.59 1506.05,1363.24 1506.59,1365.90 1507.11,1368.57 1507.62,1371.24 1508.12,1373.93 1508.61,1376.61 1509.09,1379.31 1509.56,1382.00 1510.02,1384.70 1510.47,1387.40 1510.92,1390.10 1511.37,1392.80 1511.82,1395.50 1512.26,1398.20 1512.70,1400.90 1513.14,1403.60 1513.57,1406.30 1514.01,1408.99 1514.45,1411.69 1514.89,1414.38 1515.33,1417.08 1515.78,1419.77 1516.23,1422.46 1516.68,1425.15 1517.13,1427.84 1517.60,1430.52 1518.06,1433.21 1518.54,1435.89 1519.02,1438.58 1519.51,1441.26 1520.00,1443.94 1520.51,1446.61 1521.02,1449.29 1521.55,1451.96 1522.08,1454.63 1522.63,1457.30 1523.19,1459.97 1523.76,1462.63 1524.35,1465.30 1524.95,1467.96 1525.56,1470.61 1526.19,1473.27 1526.83,1475.92 1527.49,1478.57 1528.17,1481.22 1528.85,1483.87 1529.55,1486.51 1530.25,1489.15 1530.95,1491.79 1531.66,1494.44 1532.37,1497.08 1533.07,1499.72 1533.77,1502.36 1534.47,1505.00 1535.15,1507.65 1535.83,1510.29 1536.49,1512.94 1537.13,1515.59 1537.76,1518.24 1538.38,1520.89 1539.00,1523.54 1539.63,1526.19 1540.27,1528.83 1540.94,1531.48 1541.64,1534.12 1542.39,1536.75 1543.18,1539.37 1544.04,1541.99 1545.00,1544.56 1546.13,1547.03 1547.51,1549.36 1549.14,1551.52 1550.91,1553.61 1552.68,1555.68 1554.34,1557.84 1555.77,1560.16 1556.93,1562.65 1558.01,1565.20 1559.17,1567.70 1560.60,1570.04 1562.30,1572.16 1564.26,1574.02 1566.45,1575.59 1568.85,1576.84 1571.43,1577.72 1574.15,1578.21 1577.01,1578.27" fill="none" stroke="#7F6220" stroke-width="6.7" stroke-linejoin="round"/>
<rect x="1242.8" y="1213" width="146.5" height="58.1" rx="6" fill="#F8F8F8" fill-opacity="0.8"/>
<text transform="translate(1316.25 1250.40) rotate(0.03)" text-anchor="middle" font-size="31.5" fill="#DDA42E" font-weight="bold" font-style="italic" fill-opacity="0.85">BF = 2.8</text>
<rect x="1424.2" y="1213" width="143.3" height="58.1" rx="6" fill="#F8F8F8" fill-opacity="0.8"/>
<text transform="translate(1496.05 1250.40) rotate(0.03)" text-anchor="middle" font-size="31.5" fill="#7F6220" font-weight="bold" font-style="italic" fill-opacity="0.85">BF = Inf</text>
<text transform="translate(966.40 1363.60) rotate(0.03)" font-size="34" fill="#000" style="font-family:'DejaVu Sans',sans-serif">←</text>
<text transform="translate(1004.80 1363.60) rotate(0.03) scale(0.96 1)" font-size="33.0" fill="#000">Slower</text>
<text transform="translate(1559.60 1363.60) rotate(0.03) scale(0.96 1)" font-size="33.0" fill="#000">Faster</text>
<text transform="translate(1659.20 1363.60) rotate(0.03)" font-size="34" fill="#000" style="font-family:'DejaVu Sans',sans-serif">→</text>
</g>
</g>
<rect x="958.0" y="1116.9" width="744.3" height="485.7" fill="none" stroke="#727272" stroke-width="1.6"/>
<line x1="957.2" x2="1702.3" y1="1602.6" y2="1602.6" stroke="#4A4A4A" stroke-width="1.6"/>
<line x1="1702.3" x2="1702.3" y1="1116.1" y2="1603.4" stroke="#222" stroke-width="4.8"/>
<line x1="1012.5" x2="1012.5" y1="1603.2" y2="1614.1" stroke="#1A1A1A" stroke-width="1.6"/>
<text transform="translate(1011.90 1645.30) rotate(0.03) scale(0.94 1)" text-anchor="middle" font-size="32.8" fill="#444444">-15%</text>
<line x1="1118" x2="1118" y1="1603.2" y2="1614.1" stroke="#1A1A1A" stroke-width="1.6"/>
<text transform="translate(1117.40 1645.30) rotate(0.03) scale(0.94 1)" text-anchor="middle" font-size="32.8" fill="#444444">-10%</text>
<line x1="1223.5" x2="1223.5" y1="1603.2" y2="1614.1" stroke="#1A1A1A" stroke-width="1.6"/>
<text transform="translate(1222.90 1645.30) rotate(0.03) scale(0.94 1)" text-anchor="middle" font-size="32.8" fill="#444444">-5%</text>
<line x1="1329" x2="1329" y1="1603.2" y2="1614.1" stroke="#1A1A1A" stroke-width="1.6"/>
<text transform="translate(1329.00 1645.30) rotate(0.03) scale(0.94 1)" text-anchor="middle" font-size="32.8" fill="#444444">0%</text>
<line x1="1434.5" x2="1434.5" y1="1603.2" y2="1614.1" stroke="#1A1A1A" stroke-width="1.6"/>
<text transform="translate(1434.50 1645.30) rotate(0.03) scale(0.94 1)" text-anchor="middle" font-size="32.8" fill="#444444">5%</text>
<line x1="1540" x2="1540" y1="1603.2" y2="1614.1" stroke="#1A1A1A" stroke-width="1.6"/>
<text transform="translate(1540.00 1645.30) rotate(0.03) scale(0.94 1)" text-anchor="middle" font-size="32.8" fill="#444444">10%</text>
<line x1="1645.5" x2="1645.5" y1="1603.2" y2="1614.1" stroke="#1A1A1A" stroke-width="1.6"/>
<text transform="translate(1645.50 1645.30) rotate(0.03) scale(0.94 1)" text-anchor="middle" font-size="32.8" fill="#444444">15%</text>
<text transform="translate(1724.50 1359.75) rotate(90) scale(0.925 1)" text-anchor="middle" font-size="33.5" fill="#111" font-weight="bold">20 °C</text>
<text transform="translate(532.80 1696.00) rotate(0.03) scale(0.96 1)" text-anchor="middle" font-size="40.4" fill="#000">Day</text>
<text transform="translate(1280.00 1691.60) rotate(0.03)" font-size="43.5" fill="#000" style="font-family:'Liberation Serif',serif">τ</text>
<text transform="translate(1297.80 1702.20) rotate(0.03) scale(1.02 1)" font-size="31" fill="#000">Effect</text>
<text transform="translate(32.2 802.4) rotate(-90) scale(0.975 1)" text-anchor="middle" font-size="40.4" fill="#000">CH<tspan dy="10" font-size="28">4</tspan><tspan dy="-10"> (relative to control)</tspan></text>
</svg></body></html>
